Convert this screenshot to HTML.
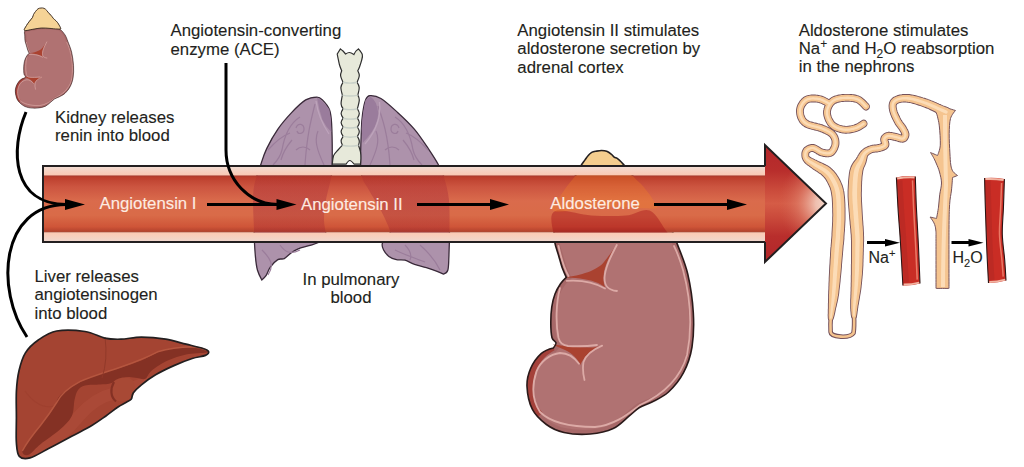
<!DOCTYPE html>
<html><head><meta charset="utf-8">
<style>
html,body{margin:0;padding:0;background:#fff;width:1024px;height:467px;overflow:hidden}
svg{display:block}
text{font-family:"Liberation Sans",sans-serif;font-size:16.8px;fill:#231f20;stroke:#231f20;stroke-width:0.12px}
.vt{stroke:#fdebe2}
.vt{fill:#fdebe2}
</style></head><body>
<svg width="1024" height="467" viewBox="0 0 1024 467">
<defs>
  <linearGradient id="red" x1="0" y1="0" x2="0" y2="1">
    <stop offset="0" stop-color="#a83a2b"/>
    <stop offset="0.04" stop-color="#bd402e"/>
    <stop offset="0.2" stop-color="#cc5540"/>
    <stop offset="0.45" stop-color="#da6b4c"/>
    <stop offset="0.7" stop-color="#d96b48"/>
    <stop offset="0.9" stop-color="#cf5538"/>
    <stop offset="0.97" stop-color="#b8452f"/>
    <stop offset="1" stop-color="#a84a35"/>
  </linearGradient>
  <linearGradient id="pinkt" x1="0" y1="0" x2="0" y2="1">
    <stop offset="0" stop-color="#f1ddd5"/>
    <stop offset="1" stop-color="#fbc8b2"/>
  </linearGradient>
  <linearGradient id="pinkb" x1="0" y1="0" x2="0" y2="1">
    <stop offset="0" stop-color="#fcc9b3"/>
    <stop offset="1" stop-color="#efd8cf"/>
  </linearGradient>
  <linearGradient id="headv" x1="0" y1="145" x2="0" y2="262" gradientUnits="userSpaceOnUse">
    <stop offset="0" stop-color="#b3262a"/>
    <stop offset="0.22" stop-color="#b82e2c"/>
    <stop offset="0.38" stop-color="#ca4a3b"/>
    <stop offset="0.5" stop-color="#d55c46"/>
    <stop offset="0.62" stop-color="#ca4a3b"/>
    <stop offset="0.78" stop-color="#b82e2c"/>
    <stop offset="1" stop-color="#b3262a"/>
  </linearGradient>
  <radialGradient id="headh" cx="828" cy="203.5" r="62" gradientUnits="userSpaceOnUse">
    <stop offset="0" stop-color="#f6dcd0" stop-opacity="1"/>
    <stop offset="0.2" stop-color="#f0c4b4" stop-opacity="0.95"/>
    <stop offset="0.5" stop-color="#e28a74" stop-opacity="0.45"/>
    <stop offset="0.8" stop-color="#d06050" stop-opacity="0"/>
  </radialGradient>
</defs>

<!-- ORGANS placeholder -->

<defs><g id="kart">
<path d="M553.6 211 C550.5 209.3 556.4 203.2 558 200 C559.6 196.8 561.5 194.3 563 192 C564.5 189.7 565.5 188.3 567 186.3 C568.5 184.3 570.5 181.9 572 180 C573.5 178.1 574.8 176.8 576 175 C577.2 173.2 578.3 170.9 579.3 169.1 C580.3 167.3 581 165.5 582 164 C583 162.5 584 161.3 585 159.9 C586 158.5 586.9 156.9 588 155.7 C589.1 154.4 590.3 153.2 591.7 152.4 C593.1 151.7 594.6 151.5 596.2 151.2 C597.8 150.9 599.8 150.5 601.5 150.5 C603.2 150.5 605.1 150.6 606.7 151.2 C608.3 151.8 610 153.2 611.2 154.2 C612.5 155.2 613.2 156.5 614.2 157.2 C615.2 157.9 616.1 157.7 617.2 158.4 C618.3 159.2 619.9 160.6 621 161.7 C622.1 162.8 622.8 163.7 624 165.1 C625.2 166.5 626.7 168.3 628 170 C629.3 171.7 630.7 173.5 632 175 C633.3 176.5 634.3 177.6 635.6 178.9 C636.9 180.2 638.4 181.3 640 183 C641.6 184.7 643.6 186.9 645.3 188.9 C647 190.9 648.4 192.6 650 195 C651.6 197.4 653.9 201.2 655 203.4 C656.1 205.6 659.2 207.5 656.4 208.3 C653.5 209.1 647.1 208.3 637.9 208 C628.7 207.7 611.5 206.2 601.3 206.5 C591.1 206.8 584.7 209.2 576.7 210 C568.8 210.8 556.7 212.7 553.6 211Z" fill="#f4cd8e" stroke="#231f20" stroke-width="1.6"/>
<path d="M554.7 213.1 C558.5 209.8 568.9 209.7 576.7 208.3 C584.5 206.9 591.1 205 601.3 204.6 C611.5 204.2 628.9 205.2 637.9 206 C646.9 206.8 649.8 206.2 655 209.4 C660.2 212.6 665.3 219.3 669 225 C672.7 230.7 673.9 235.2 677 243.4 C680.1 251.6 685.1 262.6 687.8 274.2 C690.5 285.8 692.6 300.7 693.3 312.8 C694 324.9 693.6 337 692 347 C690.4 357 687.4 365.2 683.5 372.7 C679.6 380.2 673.8 387.1 668.5 392 C663.2 396.9 656.8 399.4 652 402 C647.2 404.6 643.3 405.1 639.5 407.5 C635.7 409.9 633.4 412.7 629 416.2 C624.6 419.7 619.7 425.5 613.2 428.5 C606.8 431.5 598.5 433.3 590.3 434 C582.1 434.7 571.3 434.1 564 432.5 C556.7 430.9 551.7 428.4 546.4 424.5 C541.1 420.6 535.5 415.6 532.3 409.2 C529.1 402.8 527.3 393.2 527 386.4 C526.7 379.6 528.3 373.9 530.7 368.4 C533.1 362.9 537.6 356.8 541.4 353.4 C545.2 350 553.4 348 553.4 348 C553.4 348 556.2 344.6 556 342.9 C555.8 341.2 552.9 341.1 552 337.7 C551.1 334.3 550.8 327.4 550.8 322.3 C550.8 317.2 551.1 311.6 551.8 306.9 C552.5 302.2 553.5 297.9 555 294 C556.5 290.1 558.6 286.5 560.5 283.7 C562.4 280.9 566.3 277.3 566.3 277.3 C566.3 277.3 563.7 271.9 562.4 268.3 C561.1 264.7 559.9 259.8 558.6 255.4 C557.3 251 555.5 246.6 554.7 242 C553.9 237.4 554 232.8 554 228 C554 223.2 550.9 216.4 554.7 213.1Z" fill="#b07272"/>
<clipPath id="kclip"><path d="M554.7 213.1 C558.5 209.8 568.9 209.7 576.7 208.3 C584.5 206.9 591.1 205 601.3 204.6 C611.5 204.2 628.9 205.2 637.9 206 C646.9 206.8 649.8 206.2 655 209.4 C660.2 212.6 665.3 219.3 669 225 C672.7 230.7 673.9 235.2 677 243.4 C680.1 251.6 685.1 262.6 687.8 274.2 C690.5 285.8 692.6 300.7 693.3 312.8 C694 324.9 693.6 337 692 347 C690.4 357 687.4 365.2 683.5 372.7 C679.6 380.2 673.8 387.1 668.5 392 C663.2 396.9 656.8 399.4 652 402 C647.2 404.6 643.3 405.1 639.5 407.5 C635.7 409.9 633.4 412.7 629 416.2 C624.6 419.7 619.7 425.5 613.2 428.5 C606.8 431.5 598.5 433.3 590.3 434 C582.1 434.7 571.3 434.1 564 432.5 C556.7 430.9 551.7 428.4 546.4 424.5 C541.1 420.6 535.5 415.6 532.3 409.2 C529.1 402.8 527.3 393.2 527 386.4 C526.7 379.6 528.3 373.9 530.7 368.4 C533.1 362.9 537.6 356.8 541.4 353.4 C545.2 350 553.4 348 553.4 348 C553.4 348 556.2 344.6 556 342.9 C555.8 341.2 552.9 341.1 552 337.7 C551.1 334.3 550.8 327.4 550.8 322.3 C550.8 317.2 551.1 311.6 551.8 306.9 C552.5 302.2 553.5 297.9 555 294 C556.5 290.1 558.6 286.5 560.5 283.7 C562.4 280.9 566.3 277.3 566.3 277.3 C566.3 277.3 563.7 271.9 562.4 268.3 C561.1 264.7 559.9 259.8 558.6 255.4 C557.3 251 555.5 246.6 554.7 242 C553.9 237.4 554 232.8 554 228 C554 223.2 550.9 216.4 554.7 213.1Z"/></clipPath>
<g clip-path="url(#kclip)">
<path d="M554.7 213.1 C558.5 209.8 568.9 209.7 576.7 208.3 C584.5 206.9 591.1 205 601.3 204.6 C611.5 204.2 628.9 205.2 637.9 206 C646.9 206.8 649.8 206.2 655 209.4 C660.2 212.6 665.3 219.3 669 225 C672.7 230.7 673.9 235.2 677 243.4 C680.1 251.6 685.1 262.6 687.8 274.2 C690.5 285.8 692.6 300.7 693.3 312.8 C694 324.9 693.6 337 692 347 C690.4 357 687.4 365.2 683.5 372.7 C679.6 380.2 673.8 387.1 668.5 392 C663.2 396.9 656.8 399.4 652 402 C647.2 404.6 643.3 405.1 639.5 407.5 C635.7 409.9 633.4 412.7 629 416.2 C624.6 419.7 619.7 425.5 613.2 428.5 C606.8 431.5 598.5 433.3 590.3 434 C582.1 434.7 571.3 434.1 564 432.5 C556.7 430.9 551.7 428.4 546.4 424.5 C541.1 420.6 535.5 415.6 532.3 409.2 C529.1 402.8 527.3 393.2 527 386.4 C526.7 379.6 528.3 373.9 530.7 368.4 C533.1 362.9 537.6 356.8 541.4 353.4 C545.2 350 553.4 348 553.4 348 C553.4 348 556.2 344.6 556 342.9 C555.8 341.2 552.9 341.1 552 337.7 C551.1 334.3 550.8 327.4 550.8 322.3 C550.8 317.2 551.1 311.6 551.8 306.9 C552.5 302.2 553.5 297.9 555 294 C556.5 290.1 558.6 286.5 560.5 283.7 C562.4 280.9 566.3 277.3 566.3 277.3 C566.3 277.3 563.7 271.9 562.4 268.3 C561.1 264.7 559.9 259.8 558.6 255.4 C557.3 251 555.5 246.6 554.7 242 C553.9 237.4 554 232.8 554 228 C554 223.2 550.9 216.4 554.7 213.1Z" fill="none" stroke="#9d5d5e" stroke-width="9" opacity="0.45"/>
<path d="M553 347 C543 352 534 362 530.5 378 C528 390 530 405 540 415" fill="none" stroke="#a4413a" stroke-width="7"/>
</g>
<path d="M564.8 277.3 C580 276 598 270 604 262 C609 256 612 251 614.3 247.7 C609 257 605 266 604 272 C603 279 603.5 284 605.3 287.6 C600 283 592 280 580 278.5 C574 277.8 568 277.5 564.8 277.3Z" fill="#aa4230"/>
<path d="M552.6 344.5 C565 346 580 348 593 347.5 C597 347 600 346 602 345.5 C592 350 586 355 583 360 C581.5 362 580.8 364 580.3 365 C578 359 572 353 565 350 C560 348 556 346 552.6 344.5Z" fill="#aa4230"/>
<path d="M616.8 245 C610 258 605 268 604.5 278 C604.5 285 607 290 617 291 M558.5 246 C561 258 564 268 568.5 276 M566.7 280.8 C578 280 592 281 605 288.5 M560 288 C556 303 555.5 323 558.5 338 C560 343.5 563 345.5 568 346 C577 346.5 586 346.5 597 345 M602.1 345.7 C592 350 586 355 583.5 362 C582.5 368 583 374 584.5 380 M579 363.7 C574 357 567 353 560 353 C550 354 540 362 536.5 371.4 C532 385 532 400 540 412 C550 422 570 427 595 427 C615 425 628 414 640 405 C660 396 680 380 687 355 C692 330 691 300 683 270 C680 260 677 252 674 246" fill="none" stroke="#dcaaa6" stroke-width="1.8" stroke-linecap="round"/>
<path d="M554.7 213.1 C558.5 209.8 568.9 209.7 576.7 208.3 C584.5 206.9 591.1 205 601.3 204.6 C611.5 204.2 628.9 205.2 637.9 206 C646.9 206.8 649.8 206.2 655 209.4 C660.2 212.6 665.3 219.3 669 225 C672.7 230.7 673.9 235.2 677 243.4 C680.1 251.6 685.1 262.6 687.8 274.2 C690.5 285.8 692.6 300.7 693.3 312.8 C694 324.9 693.6 337 692 347 C690.4 357 687.4 365.2 683.5 372.7 C679.6 380.2 673.8 387.1 668.5 392 C663.2 396.9 656.8 399.4 652 402 C647.2 404.6 643.3 405.1 639.5 407.5 C635.7 409.9 633.4 412.7 629 416.2 C624.6 419.7 619.7 425.5 613.2 428.5 C606.8 431.5 598.5 433.3 590.3 434 C582.1 434.7 571.3 434.1 564 432.5 C556.7 430.9 551.7 428.4 546.4 424.5 C541.1 420.6 535.5 415.6 532.3 409.2 C529.1 402.8 527.3 393.2 527 386.4 C526.7 379.6 528.3 373.9 530.7 368.4 C533.1 362.9 537.6 356.8 541.4 353.4 C545.2 350 553.4 348 553.4 348 C553.4 348 556.2 344.6 556 342.9 C555.8 341.2 552.9 341.1 552 337.7 C551.1 334.3 550.8 327.4 550.8 322.3 C550.8 317.2 551.1 311.6 551.8 306.9 C552.5 302.2 553.5 297.9 555 294 C556.5 290.1 558.6 286.5 560.5 283.7 C562.4 280.9 566.3 277.3 566.3 277.3 C566.3 277.3 563.7 271.9 562.4 268.3 C561.1 264.7 559.9 259.8 558.6 255.4 C557.3 251 555.5 246.6 554.7 242 C553.9 237.4 554 232.8 554 228 C554 223.2 550.9 216.4 554.7 213.1Z" fill="none" stroke="#2b1a1a" stroke-width="1.6"/>
</g></defs>
<use href="#kart"/>
<use href="#kart" transform="translate(-169.1,-43.8) scale(0.35)"/>
<path d="M24.5 30.5 C23.4 29.9 25.7 27 26.5 25.5 C27.3 24 28.4 22.7 29.4 21.4 C30.4 20.1 31.8 18.6 32.5 17.5 C33.2 16.4 33 15.5 33.5 14.5 C34 13.5 34.8 12.4 35.5 11.5 C36.2 10.6 37.1 9.4 38 8.8 C38.9 8.2 40 8.1 41 8 C42 7.9 43 7.9 44 8.3 C45 8.7 46 9.6 46.8 10.5 C47.6 11.4 48.3 12.7 49 13.5 C49.7 14.3 50.3 14.4 51 15.2 C51.7 16 52.6 17.6 53.4 18.5 C54.2 19.4 55.1 19.9 56 20.8 C56.9 21.7 57.8 22.7 58.5 24 C59.2 25.3 60.8 27.7 60.5 28.5 C60.2 29.3 58.8 29 57 29 C55.2 29 52.6 28.6 50 28.4 C47.4 28.2 44.3 27.9 41.4 28 C38.5 28.1 35.6 28.9 32.8 29.3 C30 29.7 25.6 31.1 24.5 30.5Z" fill="#f5d396" stroke="#3a2a20" stroke-width="0.9"/>
<!-- liver -->
<path d="M38.3 340 C43.5 336.4 48.9 332.4 56.7 331 C64.5 329.6 77 330.3 85 331.5 C93 332.7 98.8 336.8 104.8 338.1 C110.8 339.4 114.9 339.4 121 339.2 C127.1 339 133.9 337.1 141.4 337.1 C148.9 337.1 158.4 338 165.8 339.2 C173.2 340.4 180 342.7 186.1 344.2 C192.2 345.7 198.7 347.1 202.4 348.3 C206.1 349.5 208 350.2 208.5 351.4 C209 352.6 208.1 354.2 205.4 355.4 C202.7 356.6 197.4 356.8 192.2 358.5 C186.9 360.2 180 362.9 173.9 365.6 C167.8 368.3 161 371.6 155.6 374.8 C150.2 378 145.1 381.8 141.4 384.9 C137.7 387.9 134.9 390.7 133.2 393.1 C131.5 395.5 132.6 397.6 131.2 399.2 C129.8 400.8 127.2 401.7 125 403 C122.8 404.3 121.2 404.8 118 407 C114.8 409.2 110 413.1 105.6 416.2 C101.2 419.3 97.4 422.1 91.8 425.5 C86.2 428.9 78.9 432.4 71.7 436.3 C64.5 440.2 55.6 445 48.6 448.6 C41.6 452.2 34.9 456.6 30 457.9 C25.1 459.2 21.6 458.8 19.3 456.3 C17 453.8 16.9 449.3 16.4 442.8 C15.9 436.3 16.4 425.7 16.4 417.1 C16.4 408.5 16 399.1 16.4 391.4 C16.8 383.7 17.5 377.2 19 370.8 C20.5 364.4 22.2 358 25.4 352.9 C28.6 347.8 33.1 343.6 38.3 340Z" fill="#a44432"/>
<clipPath id="lclip"><path d="M38.3 340 C43.5 336.4 48.9 332.4 56.7 331 C64.5 329.6 77 330.3 85 331.5 C93 332.7 98.8 336.8 104.8 338.1 C110.8 339.4 114.9 339.4 121 339.2 C127.1 339 133.9 337.1 141.4 337.1 C148.9 337.1 158.4 338 165.8 339.2 C173.2 340.4 180 342.7 186.1 344.2 C192.2 345.7 198.7 347.1 202.4 348.3 C206.1 349.5 208 350.2 208.5 351.4 C209 352.6 208.1 354.2 205.4 355.4 C202.7 356.6 197.4 356.8 192.2 358.5 C186.9 360.2 180 362.9 173.9 365.6 C167.8 368.3 161 371.6 155.6 374.8 C150.2 378 145.1 381.8 141.4 384.9 C137.7 387.9 134.9 390.7 133.2 393.1 C131.5 395.5 132.6 397.6 131.2 399.2 C129.8 400.8 127.2 401.7 125 403 C122.8 404.3 121.2 404.8 118 407 C114.8 409.2 110 413.1 105.6 416.2 C101.2 419.3 97.4 422.1 91.8 425.5 C86.2 428.9 78.9 432.4 71.7 436.3 C64.5 440.2 55.6 445 48.6 448.6 C41.6 452.2 34.9 456.6 30 457.9 C25.1 459.2 21.6 458.8 19.3 456.3 C17 453.8 16.9 449.3 16.4 442.8 C15.9 436.3 16.4 425.7 16.4 417.1 C16.4 408.5 16 399.1 16.4 391.4 C16.8 383.7 17.5 377.2 19 370.8 C20.5 364.4 22.2 358 25.4 352.9 C28.6 347.8 33.1 343.6 38.3 340Z"/></clipPath>
<g clip-path="url(#lclip)">
<path d="M30 455 Q60 440 80 415 Q95 398 112 394 Q130 390 150 380" fill="none" stroke="#ab4b38" stroke-width="12" opacity="0.8"/>
<path d="M25 391 Q40 412 58 405" fill="none" stroke="#9c3e2d" stroke-width="1.2" opacity="0.7"/>
</g>
<path d="M22.3 451.7 C22.3 449.4 25.4 445.3 28.5 440.9 C31.6 436.5 36.7 430.9 40.8 425.5 C44.9 420.1 49.9 413.6 53.2 408.5 C56.6 403.4 56.4 399 60.9 394.6 C65.4 390.2 73.7 385.4 80.3 381.9 C86.9 378.4 93.9 376.1 100.7 373.7 C107.5 371.3 114.2 369.8 121 367.6 C127.8 365.4 135.3 363 141.4 360.5 C147.5 358 152.2 354.4 157.6 352.4 C163 350.4 168.1 349.1 173.9 348.3 C179.7 347.5 186.8 347 192.2 347.3 C197.6 347.6 204.1 349.5 206.5 350.3 C208.9 351.1 209.9 351.7 206.5 352.4 C203.1 353.1 192.5 353 186.1 354.4 C179.7 355.8 173.6 357.8 167.8 360.5 C162 363.2 155.2 367.6 151.5 370.7 C147.8 373.8 147.8 377.6 145.4 378.8 C143 380 140.2 378.3 137.3 378 C134.4 377.7 131.2 376.7 128 377 C124.8 377.3 121 378.9 118 380 C115 381.1 113 382.8 110 383.5 C107 384.2 104.2 384.2 100 384.5 C95.8 384.8 88.7 384.6 85 385.5 C81.3 386.4 79.8 387.6 78 390 C76.2 392.4 75.5 395.6 74.5 400 C73.5 404.4 74.2 411.2 71.7 416.2 C69.2 421.2 64.5 425.5 59.4 430.1 C54.2 434.7 45.9 439.9 40.8 444 C35.6 448.1 31.6 453.5 28.5 454.8 C25.4 456.1 22.3 454 22.3 451.7Z" fill="#843124"/>
<path d="M112 384 C115 378 125 376 131 379 C135 382 135.5 390 133 396 C128 402 119 403 114 399 C110.5 395 110.5 389 112 384Z" fill="#a84935"/>
<path d="M114 382 C110 389 110.5 397 116 401.5" fill="none" stroke="#843124" stroke-width="2.2"/>
<path d="M22.3 451 C26 444 35 432 40.8 425 C47 417 52 410 57 402 C60 396 66 389 80.3 381.4 C90 377 100 374 121 367 C135 362 146 358 157.6 351.8 C170 348 180 347 192.2 346.8 C198 347 203 348.5 206.5 350" fill="none" stroke="#b5563f" stroke-width="1.5"/>
<path d="M105 337 Q108 360 102 378" fill="none" stroke="#8e3828" stroke-width="0.9"/>
<path d="M38.3 340 C43.5 336.4 48.9 332.4 56.7 331 C64.5 329.6 77 330.3 85 331.5 C93 332.7 98.8 336.8 104.8 338.1 C110.8 339.4 114.9 339.4 121 339.2 C127.1 339 133.9 337.1 141.4 337.1 C148.9 337.1 158.4 338 165.8 339.2 C173.2 340.4 180 342.7 186.1 344.2 C192.2 345.7 198.7 347.1 202.4 348.3 C206.1 349.5 208 350.2 208.5 351.4 C209 352.6 208.1 354.2 205.4 355.4 C202.7 356.6 197.4 356.8 192.2 358.5 C186.9 360.2 180 362.9 173.9 365.6 C167.8 368.3 161 371.6 155.6 374.8 C150.2 378 145.1 381.8 141.4 384.9 C137.7 387.9 134.9 390.7 133.2 393.1 C131.5 395.5 132.6 397.6 131.2 399.2 C129.8 400.8 127.2 401.7 125 403 C122.8 404.3 121.2 404.8 118 407 C114.8 409.2 110 413.1 105.6 416.2 C101.2 419.3 97.4 422.1 91.8 425.5 C86.2 428.9 78.9 432.4 71.7 436.3 C64.5 440.2 55.6 445 48.6 448.6 C41.6 452.2 34.9 456.6 30 457.9 C25.1 459.2 21.6 458.8 19.3 456.3 C17 453.8 16.9 449.3 16.4 442.8 C15.9 436.3 16.4 425.7 16.4 417.1 C16.4 408.5 16 399.1 16.4 391.4 C16.8 383.7 17.5 377.2 19 370.8 C20.5 364.4 22.2 358 25.4 352.9 C28.6 347.8 33.1 343.6 38.3 340Z" fill="none" stroke="#231f20" stroke-width="1.7"/>
<!-- lungs -->
<path d="M316.9 97.1 C319.7 97.1 320.3 97.8 322.4 99.9 C324.5 102 327.9 105.6 329.4 109.6 C330.9 113.5 331.1 114.5 331.6 123.6 C332.1 132.7 332.3 154.9 332.2 164 C332.1 173.1 332 172 331 178 C330 184 327.2 193 326 200 C324.8 207 324 213.7 324 220 C324 226.3 326.9 234.2 326 238 C325.1 241.8 321.4 241.2 318.5 242.5 C315.6 243.8 312.3 244.6 308.9 245.7 C305.5 246.8 301.2 247.7 298.2 248.9 C295.2 250.2 293 251.6 290.7 253.2 C288.4 254.8 286.4 257.5 284.3 258.6 C282.2 259.7 280.1 258.2 277.8 259.6 C275.5 261 272.3 264.4 270.3 267.1 C268.3 269.8 267.4 273.6 266 275.7 C264.6 277.8 261.8 280 261.8 280 C261.8 280 258.6 274.2 257.5 270.3 C256.4 266.4 256 263.1 255.4 256.4 C254.8 249.7 254.3 241.1 254 230 C253.7 218.9 252.3 201 253.5 190 C254.7 179 258.8 170.9 261 164 C263.2 157.1 263.9 154.4 266.7 148.6 C269.5 142.8 273.7 135.1 277.9 129.1 C282.1 123.1 287.2 117.3 291.8 112.4 C296.4 107.5 301.5 102.5 305.7 99.9 C309.9 97.4 314.1 97.1 316.9 97.1Z" fill="#ad92ab" stroke="#3a2a3a" stroke-width="1.3"/>
<path d="M369.8 95.7 C372.4 95.5 376.3 95.7 380.9 98.5 C385.5 101.3 392 107.3 397.6 112.4 C403.2 117.5 409.2 123.1 414.3 129.1 C419.4 135.1 424.4 142.8 428.3 148.6 C432.2 154.4 435.4 159.3 438 164 C440.6 168.7 442.2 171 444 177 C445.8 183 448.1 191.2 449 200 C449.9 208.8 449.5 220.6 449.5 230 C449.5 239.4 449.2 249.7 448.9 256.4 C448.6 263.1 448.7 267.4 447.8 270.3 C446.9 273.2 443.5 274.1 443.5 274.1 C443.5 274.1 440 272.5 437.1 271.4 C434.2 270.3 430.1 268.9 426.4 267.7 C422.6 266.5 418.2 265.6 414.6 264.4 C411 263.1 408 261 405 260.2 C402 259.4 399.1 260.2 396.4 259.6 C393.7 259 391 258 388.9 256.4 C386.8 254.8 384.7 252.2 383.6 250 C382.5 247.8 381.4 245.5 382.5 243 C383.6 240.5 389.1 237.8 390 235 C390.9 232.2 389.9 230.5 388.2 226 C386.5 221.5 382.8 214 379.6 208 C376.4 202 372 196 368.9 190 C365.8 184 362.2 182.2 361 172 C359.8 161.8 361.1 139 361.4 129.1 C361.7 119.2 362.1 117.3 362.8 112.4 C363.5 107.5 364.4 102.7 365.6 99.9 C366.8 97.1 367.2 95.9 369.8 95.7Z" fill="#ad92ab" stroke="#3a2a3a" stroke-width="1.3"/>
<path d="M317 97.5 Q322 100 329.4 109.6 Q331.6 120 331.3 132 Q326 127 322.5 120 Q319 110 317 97.5Z" fill="#9a7c9c"/>
<path d="M370.3 96.5 Q377.5 101 378.3 114 Q377 127 367 138.2 Q364 141 362.8 143 L361.6 129 Q362.5 112 365.6 100 Z" fill="#9a7c9c"/>
<path d="M315 104 C311 120 307 135 305 165 M300 117 C292 122 285 132 282 150 C280 158 276 162 273 165 M318 131 C314 140 317 150 324 165 M296 128 C298 122 304 124 304 129 C304 134 298 135 297 131 M292 140 C287 146 283 152 281 160 M268 150 C275 142 282 136 290 133 M310 150 C306 146 300 146 296 150 M378 106 C383 120 388 135 390 165 M395 117 C403 122 410 132 413 150 C415 158 419 162 422 165 M376 131 C380 140 377 150 370 165 M399 128 C397 122 391 124 391 129 C391 134 397 135 398 131 M403 140 C408 146 412 152 414 160 M428 150 C421 142 414 136 406 133 M385 150 C389 146 395 146 399 150 M262 250 C270 258 275 265 268 275 M280 245 C285 252 290 255 300 250 M395 250 C405 255 415 258 425 262 M420 245 C428 252 435 260 440 270 M405 245 C410 250 412 255 410 260" fill="none" stroke="#9b7d9b" stroke-width="1.2"/>
<path d="M316 101 C317.5 112 321 122 329 134 M379.5 102 C381 114 378.5 128 365 144" fill="none" stroke="#bda3bb" stroke-width="1.3"/>
<path d="M340.4 48.9 C340.4 48.9 342.1 50.1 343 51 C343.9 51.9 345.6 54 345.6 54 C345.6 54 348 52.4 349.4 52.5 C350.8 52.6 353.9 54.6 353.9 54.6 C353.9 54.6 355.2 52 356 51 C356.8 50 358.4 48.9 358.4 48.9 C358.4 48.9 361.8 52.7 362.3 54.6 C362.8 56.5 362.1 58.3 361.6 60.4 C361.1 62.5 360.1 65.3 359.5 67 C358.9 68.7 357.8 70.7 357.8 70.7 C357.8 70.7 359.4 73.9 359.3 75.8 C359.2 77.7 357.1 82.3 357.1 82.3 C357.1 82.3 359.1 85.3 359.2 87.4 C359.3 89.5 357.8 95.1 357.8 95.1 C357.8 95.1 359.4 97.7 359.3 100 C359.2 102.3 357.4 108.7 357.4 108.7 C357.4 108.7 359.3 111.9 359.3 113.5 C359.3 115.1 357.4 118.2 357.4 118.2 C357.4 118.2 359.3 121.1 359.3 122.6 C359.3 124.1 357.4 127 357.4 127 C357.4 127 359.3 130.1 359.3 131.7 C359.3 133.3 357.4 136.4 357.4 136.4 C357.4 136.4 359.1 139.3 359.3 140.8 C359.5 142.3 358.5 145.2 358.5 145.2 C358.5 145.2 360.1 149.8 360.5 152 C360.9 154.2 360.9 156.3 360.9 158.3 C360.9 160.3 360.5 164.1 360.5 164.1 C360.5 164.1 354.2 164.1 354.2 164.1 C354.2 164.1 351.1 160.5 349.8 160.5 C348.5 160.5 346.1 164.1 346.1 164.1 C346.1 164.1 332.3 164.1 332.3 164.1 C332.3 164.1 332.8 157.8 333.7 155.4 C334.6 153.1 336.5 151.7 338 150 C339.5 148.3 342.5 145.2 342.5 145.2 C342.5 145.2 341 142.3 341.1 140.8 C341.2 139.3 343.2 136.4 343.2 136.4 C343.2 136.4 341.1 133.3 341.1 131.7 C341.1 130.1 343.2 127 343.2 127 C343.2 127 341.1 124.1 341.1 122.6 C341.1 121.1 343.2 118.2 343.2 118.2 C343.2 118.2 341.1 115.1 341.1 113.5 C341.1 111.9 343.2 108.7 343.2 108.7 C343.2 108.7 341.2 106.3 341.1 104 C341 101.7 342.4 95.1 342.4 95.1 C342.4 95.1 340.8 89.5 340.9 87.4 C341 85.3 343 82.3 343 82.3 C343 82.3 340.8 77.7 340.6 75.8 C340.4 73.9 341.7 70.7 341.7 70.7 C341.7 70.7 340 66.7 339.5 65 C339 63.3 338.9 62.2 338.5 60.4 C338.1 58.6 337.2 54 337.2 54 C337.2 54 340.4 48.9 340.4 48.9Z" fill="#e7e9da" stroke="#2e2e2e" stroke-width="1.2"/>
<path d="M343 82.3 Q350 84 357.1 82.3 M342.4 95.1 Q350 97 357.8 95.1 M343.2 108.7 Q350 110.5 357.4 108.7 M343.2 118.2 Q350 120 357.4 118.2 M343.2 127 Q350 129 357.4 127 M343.2 136.4 Q350 138 357.4 136.4 M342.5 145.2 Q350 147 358.5 145.2" fill="none" stroke="#c8d0c8" stroke-width="1.4"/>
<!-- nephron -->
<path d="M868.1 104.3 L867.7 104 L867.4 103.6 L866.9 103.1 L866.3 102.4 L865.6 101.7 L864.9 101 L864.1 100.2 L863.2 99.4 L862.3 98.7 L861.4 98 L860.3 97.3 L859.2 96.8 L858.2 96.3 L857.1 96 L856 95.7 L854.9 95.4 L853.8 95.2 L852.6 95.1 L851.5 95 L850.3 94.9 L849.2 94.8 L848.1 94.8 L847 94.8 L845.9 94.8 L844.8 94.8 L843.7 94.9 L842.6 95 L841.4 95.1 L840.3 95.3 L839.1 95.5 L837.9 95.7 L836.8 96 L835.7 96.3 L834.6 96.7 L833.6 97.1 L832.6 97.6 L831.6 98.1 L830.8 98.7 L829.9 99.4 L829.2 100.1 L828.5 100.9 L827.9 101.6 L827.3 102.4 L826.8 103.2 L826.4 104 L825.9 104.8 L825.6 105.6 L825.2 106.4 L824.9 107.2 L824.7 108 L824.4 108.8 L824.3 109.7 L824.1 110.5 L824 111.4 L824 112.3 L824 113.2 L824.1 114.1 L824.2 115 L824.4 115.9 L824.6 116.8 L824.9 117.7 L825.2 118.6 L825.5 119.5 L825.9 120.5 L826.4 121.5 L826.9 122.4 L827.4 123.4 L828 124.4 L828.7 125.3 L829.4 126.2 L830.2 127 L831.1 127.8 L832 128.5 L833 129.2 L834 129.7 L835.1 130.2 L836.2 130.7 L837.3 131.1 L838.5 131.5 L839.6 131.8 L840.7 132.1 L841.9 132.4 L843 132.5 L844.1 132.7 L845.2 132.8 L846.4 132.8 L847.6 132.7 L848.7 132.7 L849.8 132.5 L851 132.3 L852 132.1 L853.1 131.9 L854.1 131.7 L855.1 131.4 L856 131.1 L856.9 130.9 L857.9 130.5 L858.8 130.1 L859.7 129.7 L860.6 129.2 L861.4 128.7 L862.1 128.3 L862.8 127.8 L863.5 127.4 L864 127 L864.5 126.7 L864.9 126.4 L865.2 126.3 A3 3 0 0 0 862 121.1 L862 121.1 L861.6 121.4 L861.1 121.7 L860.6 122.1 L860.1 122.4 L859.5 122.8 L858.9 123.2 L858.3 123.6 L857.6 124 L857 124.3 L856.3 124.7 L855.7 124.9 L855.1 125.1 L854.3 125.4 L853.5 125.6 L852.6 125.8 L851.7 126.1 L850.8 126.3 L849.9 126.4 L849 126.6 L848.1 126.7 L847.2 126.8 L846.3 126.8 L845.5 126.8 L844.7 126.7 L843.9 126.6 L843 126.5 L842.1 126.3 L841.1 126 L840.2 125.8 L839.3 125.5 L838.4 125.1 L837.6 124.8 L836.8 124.4 L836.1 124 L835.4 123.6 L834.9 123.2 L834.4 122.7 L833.9 122.2 L833.5 121.7 L833 121 L832.6 120.3 L832.1 119.6 L831.8 118.9 L831.4 118.1 L831.1 117.3 L830.8 116.6 L830.6 115.9 L830.4 115.2 L830.2 114.6 L830.1 114 L830.1 113.5 L830 112.9 L830 112.4 L830 111.8 L830.1 111.3 L830.2 110.7 L830.3 110.2 L830.4 109.7 L830.6 109.2 L830.8 108.6 L831 108.1 L831.3 107.5 L831.6 106.9 L831.9 106.4 L832.3 105.8 L832.7 105.3 L833.1 104.8 L833.5 104.3 L833.9 103.9 L834.4 103.5 L834.9 103.1 L835.4 102.8 L836 102.6 L836.7 102.3 L837.5 102 L838.3 101.8 L839.2 101.6 L840.2 101.4 L841.1 101.2 L842.1 101.1 L843.1 101 L844.2 100.9 L845.1 100.8 L846.1 100.8 L847 100.8 L848 100.8 L849 100.8 L850 100.9 L850.9 100.9 L851.9 101 L852.8 101.2 L853.7 101.3 L854.6 101.5 L855.4 101.7 L856.1 102 L856.8 102.2 L857.4 102.5 L858 102.9 L858.6 103.4 L859.3 104 L860 104.6 L860.6 105.2 L861.3 105.9 L861.9 106.5 L862.5 107.2 L863 107.7 L863.5 108.3 L863.9 108.7 A3 3 0 0 0 868.1 104.3Z" fill="#74515a" stroke="#74515a" stroke-width="1.8" stroke-linejoin="round"/>
<path d="M830.3 100.8 L829.9 100.6 L829.4 100.3 L828.7 99.9 L827.9 99.5 L827.1 99 L826.1 98.6 L825.1 98.1 L824.1 97.6 L823 97.1 L821.9 96.7 L820.7 96.3 L819.6 96.1 L818.5 95.9 L817.4 95.7 L816.3 95.6 L815.1 95.5 L813.9 95.5 L812.7 95.5 L811.5 95.5 L810.3 95.6 L809.2 95.8 L808 96 L806.9 96.3 L805.8 96.8 L804.7 97.3 L803.7 98 L802.9 98.7 L802 99.4 L801.3 100.3 L800.6 101.1 L800 102 L799.4 102.9 L798.9 103.8 L798.4 104.7 L798 105.6 L797.7 106.5 L797.4 107.5 L797.2 108.5 L797 109.5 L796.9 110.5 L796.9 111.5 L797 112.5 L797.1 113.5 L797.2 114.5 L797.4 115.4 L797.6 116.3 L797.9 117.2 L798.2 118.1 L798.5 118.9 L798.9 119.6 L799.3 120.4 L799.7 121.2 L800.2 121.9 L800.7 122.7 L801.4 123.4 L802.1 124.1 L802.8 124.8 L803.7 125.4 L804.6 126.1 L805.6 126.6 L806.8 127.2 L808 127.7 L809.3 128.1 L810.7 128.5 L812.1 128.9 L813.5 129.2 L814.9 129.6 L816.3 129.9 L817.6 130.2 L818.8 130.6 L819.9 130.9 L820.9 131.3 L821.9 131.7 L822.9 132.1 L823.9 132.6 L824.8 133 L825.7 133.4 L826.6 133.9 L827.4 134.3 L828.1 134.7 L828.8 135.2 L829.3 135.6 L829.8 136.1 L830.3 136.5 L830.7 137 L831 137.5 L831.3 138 L831.6 138.6 L831.9 139.1 L832.1 139.7 L832.3 140.3 L832.4 140.9 L832.5 141.5 L832.5 142.1 L832.5 142.7 L832.5 143.2 L832.4 143.8 L832.3 144.4 L832.1 145.1 L831.9 145.8 L831.6 146.5 L831.3 147.3 L830.9 147.9 L830.6 148.5 L830.2 149.1 L829.9 149.5 L829.6 149.8 L829.3 150 L829.1 150.1 L828.9 150.2 L828.5 150.3 L828.1 150.3 L827.5 150.4 L827 150.3 L826.3 150.3 L825.6 150.2 L824.9 150.1 L824.2 149.9 L823.5 149.8 L822.8 149.6 L822.3 149.5 L821.8 149.2 L821.2 148.9 L820.5 148.5 L819.8 148 L819 147.5 L818.2 147 L817.3 146.5 L816.5 146 L815.5 145.6 L814.4 145.2 L813.3 145 L812.3 145 L811.3 145 L810.4 145.2 L809.5 145.4 L808.6 145.7 L807.8 146 L807 146.4 L806.2 146.9 L805.5 147.4 L804.8 148 L804.2 148.6 L803.7 149.4 L803.2 150.2 L802.9 151 L802.6 151.8 L802.4 152.7 L802.3 153.6 L802.3 154.5 L802.3 155.4 L802.4 156.4 L802.5 157.3 L802.8 158.2 L803.2 159.2 L803.6 160.1 L804.2 161 L804.8 161.8 L805.5 162.6 L806.2 163.2 L807 163.9 L807.7 164.5 L808.5 165.1 L809.3 165.6 L810.1 166.2 L810.9 166.7 L811.6 167.3 L812.4 167.9 L813.2 168.5 L814.2 169.2 L815.2 169.8 L816.2 170.5 L817.2 171.1 L818.2 171.7 L819.1 172.4 L820 173 L820.9 173.6 L821.6 174.1 L822.3 174.7 L822.8 175.3 L823.4 175.8 L824 176.4 L824.5 177 L825 177.5 L825.4 178.1 L825.8 178.6 L826.3 179.2 L826.6 179.8 L827 180.5 L827.4 181.2 L827.8 181.9 L828.2 182.7 L828.6 183.5 L829 184.3 L829.4 185.2 L829.8 186 L830.2 186.8 L830.5 187.6 L830.8 188.5 L831.1 189.4 L831.4 190.4 L831.6 191.4 L831.8 192.5 L832 193.7 L832.2 195 L832.4 196.4 L832.6 198 L832.7 199.6 L832.8 201.3 L832.9 203.1 L833 204.9 L833 206.8 L833.1 208.7 L833.1 210.5 L833.1 212.3 L833.2 214.1 L833.2 215.9 L833.1 217.6 L833.1 219.5 L833.1 221.3 L833 223.1 L832.9 225 L832.8 226.8 L832.7 228.6 L832.6 230.3 L832.5 232 L832.4 233.6 L832.4 235.2 L832.3 236.5 L832.2 237.8 L832.1 238.9 L832 239.9 L831.9 240.9 L831.9 241.9 L831.8 242.9 L831.7 244 L831.6 245.1 L831.5 246.4 L831.3 247.8 L831.2 249.4 L831.1 251.1 L831 253 L830.9 255.1 L830.8 257.2 L830.6 259.4 L830.5 261.7 L830.4 263.9 L830.2 266.2 L830.1 268.4 L830 270.6 L829.9 272.7 L829.8 274.6 L829.7 276.5 L829.6 278.4 L829.6 280.2 L829.5 282 L829.4 283.7 L829.4 285.4 L829.3 287.1 L829.3 288.7 L829.2 290.2 L829.1 291.8 L829.1 293.2 L829 294.6 L829 295.9 L829 297.2 L829 298.4 L828.9 299.5 L828.9 300.6 L828.9 301.7 L828.9 302.7 L828.8 303.7 L828.8 304.7 L828.8 305.7 L828.8 306.6 L828.8 307.6 L828.8 308.6 L828.7 309.6 L828.7 310.6 L828.7 311.6 L828.7 312.6 L828.7 313.5 L828.6 314.4 L828.6 315.2 L828.6 316 L828.7 316.7 L828.7 317.3 L828.7 317.7 A2.1 2.1 0 0 0 832.9 318.3 L832.9 318.3 L833 317.8 L833.2 317.2 L833.4 316.6 L833.6 315.8 L833.8 315 L834 314.1 L834.2 313.2 L834.4 312.3 L834.6 311.3 L834.8 310.3 L835 309.3 L835.2 308.4 L835.4 307.4 L835.7 306.5 L835.9 305.6 L836.1 304.6 L836.3 303.6 L836.6 302.6 L836.8 301.5 L837 300.4 L837.3 299.3 L837.5 298 L837.7 296.8 L838 295.4 L838.2 294 L838.4 292.5 L838.5 291 L838.7 289.4 L838.9 287.8 L839.1 286.1 L839.3 284.4 L839.5 282.7 L839.7 280.9 L839.8 279.1 L840 277.2 L840.2 275.4 L840.4 273.4 L840.6 271.4 L840.8 269.2 L841 267 L841.1 264.7 L841.3 262.4 L841.5 260.2 L841.7 258 L841.9 255.8 L842.1 253.8 L842.2 251.9 L842.4 250.2 L842.5 248.7 L842.6 247.4 L842.7 246.1 L842.8 245 L843 244 L843.1 243 L843.2 241.9 L843.3 240.9 L843.4 239.8 L843.5 238.6 L843.5 237.3 L843.6 235.8 L843.7 234.3 L843.8 232.7 L844 231 L844.1 229.2 L844.2 227.4 L844.3 225.5 L844.4 223.6 L844.5 221.7 L844.6 219.8 L844.6 217.9 L844.6 215.9 L844.6 214.1 L844.6 212.2 L844.6 210.3 L844.6 208.4 L844.5 206.5 L844.5 204.5 L844.4 202.6 L844.3 200.7 L844.2 198.8 L844 196.9 L843.8 195.1 L843.6 193.4 L843.4 191.7 L843 190.2 L842.7 188.7 L842.3 187.3 L841.9 185.9 L841.4 184.7 L840.9 183.5 L840.4 182.3 L839.9 181.2 L839.4 180.2 L838.9 179.2 L838.3 178.3 L837.8 177.3 L837.2 176.4 L836.6 175.5 L836 174.6 L835.4 173.7 L834.7 172.9 L834 172 L833.3 171.2 L832.5 170.5 L831.7 169.7 L830.9 169 L830.1 168.3 L829.2 167.5 L828.1 166.8 L827 166.1 L825.9 165.5 L824.7 164.9 L823.6 164.4 L822.5 163.8 L821.4 163.3 L820.3 162.9 L819.3 162.4 L818.4 162 L817.5 161.5 L816.6 161.1 L815.7 160.6 L814.8 160.2 L813.9 159.7 L813.1 159.3 L812.3 159 L811.5 158.6 L810.8 158.2 L810.2 157.9 L809.7 157.6 L809.3 157.3 L809 157.1 L808.8 156.9 L808.6 156.7 L808.5 156.3 L808.4 156 L808.3 155.5 L808.3 155.1 L808.3 154.6 L808.3 154.2 L808.3 153.7 L808.4 153.4 L808.5 153 L808.6 152.8 L808.7 152.6 L808.8 152.5 L809 152.3 L809.2 152.1 L809.5 151.9 L809.9 151.7 L810.3 151.5 L810.7 151.3 L811.1 151.2 L811.6 151.1 L812 151 L812.4 151 L812.7 151 L812.9 151 L813.2 151.1 L813.7 151.4 L814.3 151.7 L815 152.1 L815.7 152.6 L816.5 153.1 L817.4 153.6 L818.2 154.1 L819.2 154.6 L820.2 155.1 L821.2 155.4 L822.1 155.6 L822.9 155.8 L823.8 156 L824.7 156.1 L825.7 156.3 L826.6 156.3 L827.6 156.4 L828.6 156.3 L829.6 156.2 L830.6 155.9 L831.7 155.6 L832.7 155 L833.6 154.3 L834.3 153.5 L835 152.7 L835.6 151.8 L836.2 150.8 L836.7 149.9 L837.2 148.9 L837.5 147.8 L837.9 146.8 L838.2 145.8 L838.4 144.8 L838.5 143.8 L838.5 142.8 L838.5 141.8 L838.4 140.8 L838.3 139.8 L838.1 138.9 L837.8 137.9 L837.5 136.9 L837 136 L836.6 135.1 L836 134.2 L835.4 133.3 L834.7 132.5 L834 131.7 L833.1 131 L832.3 130.3 L831.3 129.7 L830.4 129.1 L829.4 128.6 L828.4 128.1 L827.4 127.6 L826.3 127.1 L825.3 126.6 L824.2 126.2 L823.1 125.7 L821.9 125.2 L820.5 124.8 L819.1 124.4 L817.7 124.1 L816.3 123.7 L814.9 123.4 L813.6 123.1 L812.3 122.7 L811.1 122.4 L810 122.1 L809.1 121.7 L808.4 121.4 L807.8 121 L807.2 120.6 L806.6 120.2 L806.2 119.8 L805.8 119.4 L805.4 118.9 L805.1 118.5 L804.8 118.1 L804.5 117.6 L804.3 117 L804 116.5 L803.8 115.9 L803.6 115.3 L803.4 114.7 L803.3 114.1 L803.1 113.5 L803 112.8 L803 112.1 L802.9 111.4 L802.9 110.8 L803 110.1 L803.1 109.5 L803.2 109 L803.3 108.5 L803.6 107.9 L803.8 107.3 L804.1 106.6 L804.5 106 L804.9 105.4 L805.4 104.8 L805.8 104.2 L806.3 103.7 L806.8 103.2 L807.3 102.8 L807.8 102.5 L808.2 102.2 L808.8 102 L809.4 101.8 L810.2 101.7 L811 101.6 L811.9 101.5 L812.8 101.5 L813.8 101.5 L814.8 101.5 L815.7 101.6 L816.7 101.7 L817.6 101.8 L818.4 101.9 L819.2 102.1 L819.9 102.4 L820.8 102.7 L821.6 103 L822.5 103.4 L823.4 103.9 L824.2 104.3 L825 104.8 L825.8 105.2 L826.5 105.6 L827.2 105.9 L827.7 106.2 A3 3 0 0 0 830.3 100.8Z" fill="#74515a" stroke="#74515a" stroke-width="1.8" stroke-linejoin="round"/>
<path d="M856.1 316 L856.2 315.6 L856.3 315 L856.4 314.4 L856.5 313.7 L856.6 313 L856.7 312.2 L856.8 311.3 L857 310.4 L857.1 309.4 L857.2 308.4 L857.4 307.3 L857.5 306.2 L857.7 305.1 L858 303.8 L858.2 302.4 L858.4 301 L858.7 299.5 L859 297.9 L859.2 296.3 L859.5 294.7 L859.8 293.1 L860 291.5 L860.3 289.9 L860.5 288.3 L860.7 286.8 L860.8 285.3 L861 283.9 L861.1 282.4 L861.3 280.9 L861.4 279.4 L861.6 277.9 L861.7 276.4 L861.9 274.9 L862 273.3 L862.1 271.8 L862.2 270.2 L862.3 268.5 L862.4 266.8 L862.5 265.1 L862.5 263.3 L862.6 261.5 L862.6 259.8 L862.7 258 L862.7 256.3 L862.8 254.6 L862.8 252.9 L862.9 251.3 L862.9 249.9 L862.9 248.5 L863 247.3 L863 246.1 L863.1 245 L863.1 243.9 L863.1 242.8 L863.2 241.7 L863.2 240.5 L863.2 239.3 L863.2 238.1 L863.2 236.7 L863.1 235.2 L863.1 233.6 L863 232 L862.9 230.2 L862.8 228.4 L862.7 226.6 L862.5 224.8 L862.4 222.9 L862.3 221 L862.1 219.1 L862 217.3 L861.9 215.5 L861.8 213.7 L861.7 211.9 L861.6 210.1 L861.5 208.3 L861.4 206.5 L861.3 204.8 L861.2 203 L861.1 201.3 L861 199.5 L861 197.8 L860.9 196.1 L860.9 194.4 L860.9 192.8 L861 191 L861 189.2 L861 187.3 L861.1 185.5 L861.2 183.6 L861.2 181.8 L861.4 180 L861.5 178.3 L861.6 176.6 L861.8 175.1 L862 173.8 L862.2 172.6 L862.3 171.6 L862.4 170.8 L862.6 170 L862.8 169.3 L863 168.6 L863.2 167.9 L863.5 167.2 L863.8 166.5 L864.2 165.7 L864.6 164.9 L864.9 164 L865.3 163 L865.6 162.1 L865.8 161.2 L866 160.4 L866.2 159.7 L866.3 159 L866.5 158.4 L866.6 157.8 L866.7 157.3 L866.8 156.9 L866.9 156.5 L867 156.1 L867.2 155.8 L867.4 155.4 L867.7 155.1 L868.1 154.8 L868.4 154.4 L868.8 154.1 L869.2 153.8 L869.6 153.5 L870.1 153.2 L870.5 153 L871 152.7 L871.6 152.4 L872 152.2 L872.5 152.1 L873 152 L873.6 151.8 L874.2 151.8 L874.9 151.7 L875.6 151.6 L876.4 151.5 L877.1 151.5 L877.9 151.4 L878.7 151.2 L879.6 151.1 L880.3 150.9 L881 150.7 L881.6 150.5 L882.2 150.3 L882.9 150.1 L883.5 149.8 L884.2 149.6 L884.8 149.3 L885.5 148.9 L886.2 148.5 L886.8 147.9 L887.4 147.3 L888 146.4 L888.4 145.2 L888.5 144.1 L888.4 143.2 L888.2 142.4 L888 141.6 L887.8 141 L887.6 140.5 L887.5 140 L887.4 139.7 L887.3 139.5 L887.3 139.6 L887.3 139.8 L887.3 139.9 L887.3 139.8 L887.4 139.7 L887.5 139.6 L887.6 139.5 L887.7 139.4 L887.8 139.3 L888 139.2 L888.1 139.1 L888.3 139.1 L888.5 139 L888.7 139 L888.9 138.9 L889.2 138.9 L889.6 139 L890 139 L890.6 139.1 L891.2 139.2 L891.8 139.3 L892.4 139.5 L893.1 139.6 L893.8 139.8 L894.5 139.9 L895.1 140 L895.6 140.1 L896.1 140.3 L896.7 140.5 L897.3 140.7 L898 140.9 L898.6 141.1 L899.3 141.3 L900.1 141.5 L900.8 141.6 L901.7 141.7 L902.6 141.8 L903.5 141.6 L904.4 141.3 L905.2 140.9 L905.9 140.4 L906.5 139.8 L907 139.2 L907.4 138.6 L907.7 137.9 L908 137.3 L908.2 136.6 L908.4 135.9 L908.5 135.2 L908.5 134.5 L908.5 133.7 L908.3 132.9 L908.1 132.2 L907.9 131.6 L907.6 130.9 L907.4 130.3 L907.1 129.7 L906.7 129.2 L906.4 128.6 L906.1 128 L905.8 127.5 L905.5 126.9 L905.1 126.3 L904.7 125.7 L904.2 125.1 L903.8 124.5 L903.4 123.9 L902.9 123.3 L902.5 122.8 L902.1 122.2 L901.7 121.7 L901.3 121.1 L901 120.5 L900.6 119.9 L900.2 119.2 L899.8 118.4 L899.4 117.6 L899 116.7 L898.5 115.8 L898.1 114.9 L897.7 114 L897.3 113.2 L897 112.3 L896.7 111.5 L896.5 110.8 L896.3 110.1 L896.1 109.5 L896 108.8 L895.9 108.1 L895.8 107.5 L895.7 106.9 L895.7 106.4 L895.7 105.9 L895.7 105.4 L895.8 105 L895.9 104.7 L895.9 104.5 L896 104.3 L896.2 104.1 L896.3 103.9 L896.5 103.7 L896.8 103.4 L897.1 103.2 L897.5 103 L897.9 102.8 L898.3 102.6 L898.8 102.4 L899.3 102.2 L899.9 102.1 L900.5 101.9 L901.1 101.8 L901.8 101.7 L902.5 101.7 L903.3 101.6 L904 101.6 L904.8 101.6 L905.7 101.6 L906.5 101.7 L907.5 101.8 L908.4 101.9 L909.4 102.1 L910.4 102.2 L911.4 102.5 L912.6 102.8 L913.8 103.1 L915.1 103.5 L916.5 103.9 L917.8 104.3 L919.2 104.8 L920.6 105.2 L921.9 105.7 L923.2 106.2 L924.5 106.7 L925.7 107.1 L926.8 107.6 L928 108 L929.1 108.5 L930.2 109.1 L931.3 109.6 L932.4 110.1 L933.5 110.6 L934.5 111.1 L935.5 111.6 L936.5 112.1 L937.4 112.5 L938.3 113 L939 113.3 L939.7 113.7 L940.4 114 L941 114.3 L941.6 114.5 L942.1 114.8 L942.6 115 L943 115.2 L943.4 115.4 L943.7 115.6 L944 115.7 L944.3 115.9 A4.2 4.2 0 0 0 947.7 108.1 L947.7 108.1 L947.4 108 L947.1 107.9 L946.8 107.8 L946.4 107.6 L945.9 107.4 L945.4 107.2 L944.9 107 L944.3 106.8 L943.7 106.5 L943 106.3 L942.3 106 L941.5 105.6 L940.7 105.3 L939.9 104.9 L938.9 104.5 L937.9 104 L936.8 103.6 L935.7 103.1 L934.5 102.6 L933.3 102 L932.1 101.5 L930.8 101 L929.6 100.5 L928.3 100.1 L927 99.6 L925.7 99.2 L924.3 98.7 L922.9 98.3 L921.4 97.8 L920 97.4 L918.5 97 L917.1 96.6 L915.6 96.2 L914.2 95.9 L912.9 95.6 L911.6 95.4 L910.4 95.2 L909.2 95 L908 95 L906.9 94.9 L905.8 94.9 L904.8 94.9 L903.8 95 L902.8 95 L901.8 95.2 L900.9 95.3 L900 95.5 L899.1 95.7 L898.2 95.9 L897.4 96.2 L896.6 96.5 L895.8 96.8 L895 97.2 L894.2 97.6 L893.5 98.1 L892.8 98.6 L892.2 99.2 L891.6 99.8 L891 100.6 L890.6 101.3 L890.2 102.2 L889.9 103.1 L889.7 103.9 L889.6 104.8 L889.5 105.7 L889.5 106.5 L889.6 107.4 L889.6 108.2 L889.8 109.1 L889.9 110 L890.1 110.8 L890.3 111.7 L890.6 112.6 L890.9 113.6 L891.2 114.5 L891.6 115.5 L892 116.5 L892.5 117.5 L892.9 118.5 L893.4 119.4 L893.9 120.4 L894.3 121.2 L894.8 122.1 L895.2 122.9 L895.6 123.7 L896.1 124.5 L896.6 125.2 L897.1 125.9 L897.6 126.5 L898 127.1 L898.4 127.7 L898.9 128.2 L899.2 128.7 L899.6 129.2 L899.9 129.6 L900.1 130.1 L900.4 130.6 L900.7 131.1 L901 131.6 L901.3 132.1 L901.6 132.6 L901.8 133 L902 133.4 L902.1 133.8 L902.2 134.1 L902.3 134.3 L902.3 134.4 L902.3 134.5 L902.3 134.6 L902.3 134.8 L902.2 135 L902.2 135.2 L902.1 135.3 L902 135.5 L902 135.6 L901.9 135.6 L901.9 135.7 L901.9 135.7 L901.9 135.6 L902.1 135.6 L902.2 135.6 L902.1 135.6 L901.9 135.5 L901.5 135.5 L901 135.3 L900.5 135.2 L899.9 135 L899.2 134.8 L898.5 134.5 L897.8 134.3 L897 134.1 L896.3 134 L895.7 133.8 L895.1 133.7 L894.4 133.6 L893.8 133.4 L893.1 133.3 L892.3 133.1 L891.6 133 L890.9 132.9 L890.1 132.8 L889.3 132.7 L888.5 132.7 L887.7 132.8 L886.9 133 L886.3 133.2 L885.6 133.5 L884.9 133.8 L884.3 134.2 L883.8 134.6 L883.3 135.1 L882.8 135.6 L882.3 136.1 L881.9 136.7 L881.6 137.4 L881.3 138.2 L881.1 139.2 L881.2 140.2 L881.3 141.1 L881.5 141.8 L881.7 142.4 L881.9 143 L882.1 143.5 L882.2 143.9 L882.3 144.1 L882.3 144.2 L882.3 144 L882.4 143.6 L882.5 143.4 L882.5 143.4 L882.5 143.5 L882.3 143.6 L882 143.7 L881.7 143.9 L881.3 144.1 L880.8 144.2 L880.3 144.4 L879.8 144.6 L879.2 144.8 L878.7 144.9 L878.2 145 L877.7 145.1 L877.1 145.2 L876.5 145.3 L875.8 145.4 L875 145.4 L874.2 145.5 L873.4 145.6 L872.5 145.7 L871.7 145.9 L870.8 146.1 L870 146.4 L869.2 146.6 L868.5 146.9 L867.8 147.2 L867.1 147.5 L866.4 147.8 L865.7 148.2 L865 148.6 L864.3 149.1 L863.7 149.5 L863 150.1 L862.4 150.6 L861.8 151.2 L861.2 151.9 L860.6 152.6 L860.1 153.3 L859.6 154 L859.2 154.7 L858.8 155.3 L858.4 156 L858.1 156.6 L857.7 157.3 L857.4 157.9 L857 158.4 L856.7 159 L856.3 159.5 L855.9 160 L855.5 160.5 L855 161.2 L854.4 161.9 L853.8 162.7 L853.2 163.7 L852.6 164.7 L852 165.9 L851.4 167.2 L850.9 168.7 L850.4 170.2 L850.1 171.8 L849.8 173.5 L849.6 175.3 L849.4 177.1 L849.2 179 L849 180.9 L848.9 182.9 L848.8 184.9 L848.7 186.9 L848.6 188.8 L848.5 190.8 L848.5 192.6 L848.5 194.5 L848.5 196.4 L848.6 198.3 L848.7 200.1 L848.8 202 L848.9 203.8 L849.1 205.6 L849.2 207.4 L849.4 209.2 L849.5 211 L849.7 212.7 L849.8 214.5 L850 216.3 L850.1 218.2 L850.3 220.1 L850.5 222 L850.6 223.9 L850.8 225.7 L851 227.6 L851.2 229.3 L851.3 231.1 L851.4 232.7 L851.6 234.3 L851.7 235.8 L851.7 237.1 L851.8 238.4 L851.8 239.5 L851.9 240.6 L851.9 241.6 L851.9 242.7 L851.9 243.7 L851.9 244.7 L851.9 245.9 L851.9 247.1 L851.9 248.3 L851.9 249.7 L851.9 251.2 L851.9 252.8 L851.9 254.4 L851.9 256.1 L851.9 257.8 L851.9 259.6 L851.9 261.3 L851.9 263.1 L851.8 264.8 L851.8 266.5 L851.8 268.2 L851.8 269.8 L851.8 271.4 L851.8 272.9 L851.8 274.4 L851.7 275.9 L851.7 277.4 L851.7 278.9 L851.7 280.3 L851.7 281.8 L851.6 283.2 L851.6 284.7 L851.6 286.2 L851.5 287.7 L851.5 289.2 L851.5 290.7 L851.4 292.3 L851.4 293.9 L851.3 295.5 L851.3 297.1 L851.2 298.7 L851.1 300.2 L851.1 301.7 L851.1 303.1 L851.1 304.5 L851.1 305.8 L851.1 307 L851.1 308.1 L851.2 309.2 L851.2 310.2 L851.3 311.2 L851.4 312.1 L851.5 312.9 L851.5 313.7 L851.6 314.4 L851.7 315 L851.8 315.5 L851.9 316 A2.1 2.1 0 0 0 856.1 316Z" fill="#74515a" stroke="#74515a" stroke-width="1.8" stroke-linejoin="round"/>
<path d="M830.8 317 C830.4 322 830.4 328 830.6 332 C831 337.5 850 338.5 853.5 333 C854.5 327 854.2 320 854 315" fill="none" stroke="#74515a" stroke-width="4.6"/>
<path d="M944 107 C944 107 955.5 110.5 955.5 110.5 C955.5 110.5 951.5 114.7 950.5 118.5 C949.5 122.3 949.3 127.9 949.2 133.6 C949.1 139.3 949.6 147.7 949.9 152.9 C950.2 158.1 950.3 161.9 950.8 165 C951.3 168.1 951.9 169.8 953 171.5 C954.1 173.2 957.5 175.5 957.5 175.5 C957.5 175.5 952.5 177.5 952.5 177.5 C952.5 177.5 952 185.5 951.5 190 C951 194.5 950 198 949.6 204.6 C949.2 211.2 949.1 215.3 949 229.3 C948.9 243.3 949 288.4 949 288.4 C949 288.4 936 288.4 936 288.4 C936 288.4 936 251.3 936 241.6 C936 231.9 936.1 233.1 935.8 230 C935.5 226.9 935 225.2 934 223 C933 220.8 930 217 930 217 C930 217 936.5 218.5 936.5 218.5 C936.5 218.5 938 211 938.5 207.1 C939 203.2 939.2 198.8 939.7 194.8 C940.2 190.8 941.5 186.8 941.5 183 C941.5 179.2 940.3 175.2 939.5 172 C938.7 168.8 937.4 166.2 936.5 164 C935.6 161.8 935 160.4 934 158.5 C933 156.6 930.5 152.5 930.5 152.5 C930.5 152.5 937.5 155.5 937.5 155.5 C937.5 155.5 940 150.1 940.3 145.2 C940.6 140.3 939.8 130.7 939.3 125.9 C938.8 121.1 937.9 118.9 937.4 116.2 C936.9 113.5 934.9 111.5 936 110 C937.1 108.5 944 107 944 107Z" fill="#f5c48f" stroke="#74515a" stroke-width="1"/>
<path d="M868.1 104.3 L867.7 104 L867.4 103.6 L866.9 103.1 L866.3 102.4 L865.6 101.7 L864.9 101 L864.1 100.2 L863.2 99.4 L862.3 98.7 L861.4 98 L860.3 97.3 L859.2 96.8 L858.2 96.3 L857.1 96 L856 95.7 L854.9 95.4 L853.8 95.2 L852.6 95.1 L851.5 95 L850.3 94.9 L849.2 94.8 L848.1 94.8 L847 94.8 L845.9 94.8 L844.8 94.8 L843.7 94.9 L842.6 95 L841.4 95.1 L840.3 95.3 L839.1 95.5 L837.9 95.7 L836.8 96 L835.7 96.3 L834.6 96.7 L833.6 97.1 L832.6 97.6 L831.6 98.1 L830.8 98.7 L829.9 99.4 L829.2 100.1 L828.5 100.9 L827.9 101.6 L827.3 102.4 L826.8 103.2 L826.4 104 L825.9 104.8 L825.6 105.6 L825.2 106.4 L824.9 107.2 L824.7 108 L824.4 108.8 L824.3 109.7 L824.1 110.5 L824 111.4 L824 112.3 L824 113.2 L824.1 114.1 L824.2 115 L824.4 115.9 L824.6 116.8 L824.9 117.7 L825.2 118.6 L825.5 119.5 L825.9 120.5 L826.4 121.5 L826.9 122.4 L827.4 123.4 L828 124.4 L828.7 125.3 L829.4 126.2 L830.2 127 L831.1 127.8 L832 128.5 L833 129.2 L834 129.7 L835.1 130.2 L836.2 130.7 L837.3 131.1 L838.5 131.5 L839.6 131.8 L840.7 132.1 L841.9 132.4 L843 132.5 L844.1 132.7 L845.2 132.8 L846.4 132.8 L847.6 132.7 L848.7 132.7 L849.8 132.5 L851 132.3 L852 132.1 L853.1 131.9 L854.1 131.7 L855.1 131.4 L856 131.1 L856.9 130.9 L857.9 130.5 L858.8 130.1 L859.7 129.7 L860.6 129.2 L861.4 128.7 L862.1 128.3 L862.8 127.8 L863.5 127.4 L864 127 L864.5 126.7 L864.9 126.4 L865.2 126.3 A3 3 0 0 0 862 121.1 L862 121.1 L861.6 121.4 L861.1 121.7 L860.6 122.1 L860.1 122.4 L859.5 122.8 L858.9 123.2 L858.3 123.6 L857.6 124 L857 124.3 L856.3 124.7 L855.7 124.9 L855.1 125.1 L854.3 125.4 L853.5 125.6 L852.6 125.8 L851.7 126.1 L850.8 126.3 L849.9 126.4 L849 126.6 L848.1 126.7 L847.2 126.8 L846.3 126.8 L845.5 126.8 L844.7 126.7 L843.9 126.6 L843 126.5 L842.1 126.3 L841.1 126 L840.2 125.8 L839.3 125.5 L838.4 125.1 L837.6 124.8 L836.8 124.4 L836.1 124 L835.4 123.6 L834.9 123.2 L834.4 122.7 L833.9 122.2 L833.5 121.7 L833 121 L832.6 120.3 L832.1 119.6 L831.8 118.9 L831.4 118.1 L831.1 117.3 L830.8 116.6 L830.6 115.9 L830.4 115.2 L830.2 114.6 L830.1 114 L830.1 113.5 L830 112.9 L830 112.4 L830 111.8 L830.1 111.3 L830.2 110.7 L830.3 110.2 L830.4 109.7 L830.6 109.2 L830.8 108.6 L831 108.1 L831.3 107.5 L831.6 106.9 L831.9 106.4 L832.3 105.8 L832.7 105.3 L833.1 104.8 L833.5 104.3 L833.9 103.9 L834.4 103.5 L834.9 103.1 L835.4 102.8 L836 102.6 L836.7 102.3 L837.5 102 L838.3 101.8 L839.2 101.6 L840.2 101.4 L841.1 101.2 L842.1 101.1 L843.1 101 L844.2 100.9 L845.1 100.8 L846.1 100.8 L847 100.8 L848 100.8 L849 100.8 L850 100.9 L850.9 100.9 L851.9 101 L852.8 101.2 L853.7 101.3 L854.6 101.5 L855.4 101.7 L856.1 102 L856.8 102.2 L857.4 102.5 L858 102.9 L858.6 103.4 L859.3 104 L860 104.6 L860.6 105.2 L861.3 105.9 L861.9 106.5 L862.5 107.2 L863 107.7 L863.5 108.3 L863.9 108.7 A3 3 0 0 0 868.1 104.3Z" fill="#f5c48f"/>
<path d="M830.3 100.8 L829.9 100.6 L829.4 100.3 L828.7 99.9 L827.9 99.5 L827.1 99 L826.1 98.6 L825.1 98.1 L824.1 97.6 L823 97.1 L821.9 96.7 L820.7 96.3 L819.6 96.1 L818.5 95.9 L817.4 95.7 L816.3 95.6 L815.1 95.5 L813.9 95.5 L812.7 95.5 L811.5 95.5 L810.3 95.6 L809.2 95.8 L808 96 L806.9 96.3 L805.8 96.8 L804.7 97.3 L803.7 98 L802.9 98.7 L802 99.4 L801.3 100.3 L800.6 101.1 L800 102 L799.4 102.9 L798.9 103.8 L798.4 104.7 L798 105.6 L797.7 106.5 L797.4 107.5 L797.2 108.5 L797 109.5 L796.9 110.5 L796.9 111.5 L797 112.5 L797.1 113.5 L797.2 114.5 L797.4 115.4 L797.6 116.3 L797.9 117.2 L798.2 118.1 L798.5 118.9 L798.9 119.6 L799.3 120.4 L799.7 121.2 L800.2 121.9 L800.7 122.7 L801.4 123.4 L802.1 124.1 L802.8 124.8 L803.7 125.4 L804.6 126.1 L805.6 126.6 L806.8 127.2 L808 127.7 L809.3 128.1 L810.7 128.5 L812.1 128.9 L813.5 129.2 L814.9 129.6 L816.3 129.9 L817.6 130.2 L818.8 130.6 L819.9 130.9 L820.9 131.3 L821.9 131.7 L822.9 132.1 L823.9 132.6 L824.8 133 L825.7 133.4 L826.6 133.9 L827.4 134.3 L828.1 134.7 L828.8 135.2 L829.3 135.6 L829.8 136.1 L830.3 136.5 L830.7 137 L831 137.5 L831.3 138 L831.6 138.6 L831.9 139.1 L832.1 139.7 L832.3 140.3 L832.4 140.9 L832.5 141.5 L832.5 142.1 L832.5 142.7 L832.5 143.2 L832.4 143.8 L832.3 144.4 L832.1 145.1 L831.9 145.8 L831.6 146.5 L831.3 147.3 L830.9 147.9 L830.6 148.5 L830.2 149.1 L829.9 149.5 L829.6 149.8 L829.3 150 L829.1 150.1 L828.9 150.2 L828.5 150.3 L828.1 150.3 L827.5 150.4 L827 150.3 L826.3 150.3 L825.6 150.2 L824.9 150.1 L824.2 149.9 L823.5 149.8 L822.8 149.6 L822.3 149.5 L821.8 149.2 L821.2 148.9 L820.5 148.5 L819.8 148 L819 147.5 L818.2 147 L817.3 146.5 L816.5 146 L815.5 145.6 L814.4 145.2 L813.3 145 L812.3 145 L811.3 145 L810.4 145.2 L809.5 145.4 L808.6 145.7 L807.8 146 L807 146.4 L806.2 146.9 L805.5 147.4 L804.8 148 L804.2 148.6 L803.7 149.4 L803.2 150.2 L802.9 151 L802.6 151.8 L802.4 152.7 L802.3 153.6 L802.3 154.5 L802.3 155.4 L802.4 156.4 L802.5 157.3 L802.8 158.2 L803.2 159.2 L803.6 160.1 L804.2 161 L804.8 161.8 L805.5 162.6 L806.2 163.2 L807 163.9 L807.7 164.5 L808.5 165.1 L809.3 165.6 L810.1 166.2 L810.9 166.7 L811.6 167.3 L812.4 167.9 L813.2 168.5 L814.2 169.2 L815.2 169.8 L816.2 170.5 L817.2 171.1 L818.2 171.7 L819.1 172.4 L820 173 L820.9 173.6 L821.6 174.1 L822.3 174.7 L822.8 175.3 L823.4 175.8 L824 176.4 L824.5 177 L825 177.5 L825.4 178.1 L825.8 178.6 L826.3 179.2 L826.6 179.8 L827 180.5 L827.4 181.2 L827.8 181.9 L828.2 182.7 L828.6 183.5 L829 184.3 L829.4 185.2 L829.8 186 L830.2 186.8 L830.5 187.6 L830.8 188.5 L831.1 189.4 L831.4 190.4 L831.6 191.4 L831.8 192.5 L832 193.7 L832.2 195 L832.4 196.4 L832.6 198 L832.7 199.6 L832.8 201.3 L832.9 203.1 L833 204.9 L833 206.8 L833.1 208.7 L833.1 210.5 L833.1 212.3 L833.2 214.1 L833.2 215.9 L833.1 217.6 L833.1 219.5 L833.1 221.3 L833 223.1 L832.9 225 L832.8 226.8 L832.7 228.6 L832.6 230.3 L832.5 232 L832.4 233.6 L832.4 235.2 L832.3 236.5 L832.2 237.8 L832.1 238.9 L832 239.9 L831.9 240.9 L831.9 241.9 L831.8 242.9 L831.7 244 L831.6 245.1 L831.5 246.4 L831.3 247.8 L831.2 249.4 L831.1 251.1 L831 253 L830.9 255.1 L830.8 257.2 L830.6 259.4 L830.5 261.7 L830.4 263.9 L830.2 266.2 L830.1 268.4 L830 270.6 L829.9 272.7 L829.8 274.6 L829.7 276.5 L829.6 278.4 L829.6 280.2 L829.5 282 L829.4 283.7 L829.4 285.4 L829.3 287.1 L829.3 288.7 L829.2 290.2 L829.1 291.8 L829.1 293.2 L829 294.6 L829 295.9 L829 297.2 L829 298.4 L828.9 299.5 L828.9 300.6 L828.9 301.7 L828.9 302.7 L828.8 303.7 L828.8 304.7 L828.8 305.7 L828.8 306.6 L828.8 307.6 L828.8 308.6 L828.7 309.6 L828.7 310.6 L828.7 311.6 L828.7 312.6 L828.7 313.5 L828.6 314.4 L828.6 315.2 L828.6 316 L828.7 316.7 L828.7 317.3 L828.7 317.7 A2.1 2.1 0 0 0 832.9 318.3 L832.9 318.3 L833 317.8 L833.2 317.2 L833.4 316.6 L833.6 315.8 L833.8 315 L834 314.1 L834.2 313.2 L834.4 312.3 L834.6 311.3 L834.8 310.3 L835 309.3 L835.2 308.4 L835.4 307.4 L835.7 306.5 L835.9 305.6 L836.1 304.6 L836.3 303.6 L836.6 302.6 L836.8 301.5 L837 300.4 L837.3 299.3 L837.5 298 L837.7 296.8 L838 295.4 L838.2 294 L838.4 292.5 L838.5 291 L838.7 289.4 L838.9 287.8 L839.1 286.1 L839.3 284.4 L839.5 282.7 L839.7 280.9 L839.8 279.1 L840 277.2 L840.2 275.4 L840.4 273.4 L840.6 271.4 L840.8 269.2 L841 267 L841.1 264.7 L841.3 262.4 L841.5 260.2 L841.7 258 L841.9 255.8 L842.1 253.8 L842.2 251.9 L842.4 250.2 L842.5 248.7 L842.6 247.4 L842.7 246.1 L842.8 245 L843 244 L843.1 243 L843.2 241.9 L843.3 240.9 L843.4 239.8 L843.5 238.6 L843.5 237.3 L843.6 235.8 L843.7 234.3 L843.8 232.7 L844 231 L844.1 229.2 L844.2 227.4 L844.3 225.5 L844.4 223.6 L844.5 221.7 L844.6 219.8 L844.6 217.9 L844.6 215.9 L844.6 214.1 L844.6 212.2 L844.6 210.3 L844.6 208.4 L844.5 206.5 L844.5 204.5 L844.4 202.6 L844.3 200.7 L844.2 198.8 L844 196.9 L843.8 195.1 L843.6 193.4 L843.4 191.7 L843 190.2 L842.7 188.7 L842.3 187.3 L841.9 185.9 L841.4 184.7 L840.9 183.5 L840.4 182.3 L839.9 181.2 L839.4 180.2 L838.9 179.2 L838.3 178.3 L837.8 177.3 L837.2 176.4 L836.6 175.5 L836 174.6 L835.4 173.7 L834.7 172.9 L834 172 L833.3 171.2 L832.5 170.5 L831.7 169.7 L830.9 169 L830.1 168.3 L829.2 167.5 L828.1 166.8 L827 166.1 L825.9 165.5 L824.7 164.9 L823.6 164.4 L822.5 163.8 L821.4 163.3 L820.3 162.9 L819.3 162.4 L818.4 162 L817.5 161.5 L816.6 161.1 L815.7 160.6 L814.8 160.2 L813.9 159.7 L813.1 159.3 L812.3 159 L811.5 158.6 L810.8 158.2 L810.2 157.9 L809.7 157.6 L809.3 157.3 L809 157.1 L808.8 156.9 L808.6 156.7 L808.5 156.3 L808.4 156 L808.3 155.5 L808.3 155.1 L808.3 154.6 L808.3 154.2 L808.3 153.7 L808.4 153.4 L808.5 153 L808.6 152.8 L808.7 152.6 L808.8 152.5 L809 152.3 L809.2 152.1 L809.5 151.9 L809.9 151.7 L810.3 151.5 L810.7 151.3 L811.1 151.2 L811.6 151.1 L812 151 L812.4 151 L812.7 151 L812.9 151 L813.2 151.1 L813.7 151.4 L814.3 151.7 L815 152.1 L815.7 152.6 L816.5 153.1 L817.4 153.6 L818.2 154.1 L819.2 154.6 L820.2 155.1 L821.2 155.4 L822.1 155.6 L822.9 155.8 L823.8 156 L824.7 156.1 L825.7 156.3 L826.6 156.3 L827.6 156.4 L828.6 156.3 L829.6 156.2 L830.6 155.9 L831.7 155.6 L832.7 155 L833.6 154.3 L834.3 153.5 L835 152.7 L835.6 151.8 L836.2 150.8 L836.7 149.9 L837.2 148.9 L837.5 147.8 L837.9 146.8 L838.2 145.8 L838.4 144.8 L838.5 143.8 L838.5 142.8 L838.5 141.8 L838.4 140.8 L838.3 139.8 L838.1 138.9 L837.8 137.9 L837.5 136.9 L837 136 L836.6 135.1 L836 134.2 L835.4 133.3 L834.7 132.5 L834 131.7 L833.1 131 L832.3 130.3 L831.3 129.7 L830.4 129.1 L829.4 128.6 L828.4 128.1 L827.4 127.6 L826.3 127.1 L825.3 126.6 L824.2 126.2 L823.1 125.7 L821.9 125.2 L820.5 124.8 L819.1 124.4 L817.7 124.1 L816.3 123.7 L814.9 123.4 L813.6 123.1 L812.3 122.7 L811.1 122.4 L810 122.1 L809.1 121.7 L808.4 121.4 L807.8 121 L807.2 120.6 L806.6 120.2 L806.2 119.8 L805.8 119.4 L805.4 118.9 L805.1 118.5 L804.8 118.1 L804.5 117.6 L804.3 117 L804 116.5 L803.8 115.9 L803.6 115.3 L803.4 114.7 L803.3 114.1 L803.1 113.5 L803 112.8 L803 112.1 L802.9 111.4 L802.9 110.8 L803 110.1 L803.1 109.5 L803.2 109 L803.3 108.5 L803.6 107.9 L803.8 107.3 L804.1 106.6 L804.5 106 L804.9 105.4 L805.4 104.8 L805.8 104.2 L806.3 103.7 L806.8 103.2 L807.3 102.8 L807.8 102.5 L808.2 102.2 L808.8 102 L809.4 101.8 L810.2 101.7 L811 101.6 L811.9 101.5 L812.8 101.5 L813.8 101.5 L814.8 101.5 L815.7 101.6 L816.7 101.7 L817.6 101.8 L818.4 101.9 L819.2 102.1 L819.9 102.4 L820.8 102.7 L821.6 103 L822.5 103.4 L823.4 103.9 L824.2 104.3 L825 104.8 L825.8 105.2 L826.5 105.6 L827.2 105.9 L827.7 106.2 A3 3 0 0 0 830.3 100.8Z" fill="#f5c48f"/>
<path d="M856.1 316 L856.2 315.6 L856.3 315 L856.4 314.4 L856.5 313.7 L856.6 313 L856.7 312.2 L856.8 311.3 L857 310.4 L857.1 309.4 L857.2 308.4 L857.4 307.3 L857.5 306.2 L857.7 305.1 L858 303.8 L858.2 302.4 L858.4 301 L858.7 299.5 L859 297.9 L859.2 296.3 L859.5 294.7 L859.8 293.1 L860 291.5 L860.3 289.9 L860.5 288.3 L860.7 286.8 L860.8 285.3 L861 283.9 L861.1 282.4 L861.3 280.9 L861.4 279.4 L861.6 277.9 L861.7 276.4 L861.9 274.9 L862 273.3 L862.1 271.8 L862.2 270.2 L862.3 268.5 L862.4 266.8 L862.5 265.1 L862.5 263.3 L862.6 261.5 L862.6 259.8 L862.7 258 L862.7 256.3 L862.8 254.6 L862.8 252.9 L862.9 251.3 L862.9 249.9 L862.9 248.5 L863 247.3 L863 246.1 L863.1 245 L863.1 243.9 L863.1 242.8 L863.2 241.7 L863.2 240.5 L863.2 239.3 L863.2 238.1 L863.2 236.7 L863.1 235.2 L863.1 233.6 L863 232 L862.9 230.2 L862.8 228.4 L862.7 226.6 L862.5 224.8 L862.4 222.9 L862.3 221 L862.1 219.1 L862 217.3 L861.9 215.5 L861.8 213.7 L861.7 211.9 L861.6 210.1 L861.5 208.3 L861.4 206.5 L861.3 204.8 L861.2 203 L861.1 201.3 L861 199.5 L861 197.8 L860.9 196.1 L860.9 194.4 L860.9 192.8 L861 191 L861 189.2 L861 187.3 L861.1 185.5 L861.2 183.6 L861.2 181.8 L861.4 180 L861.5 178.3 L861.6 176.6 L861.8 175.1 L862 173.8 L862.2 172.6 L862.3 171.6 L862.4 170.8 L862.6 170 L862.8 169.3 L863 168.6 L863.2 167.9 L863.5 167.2 L863.8 166.5 L864.2 165.7 L864.6 164.9 L864.9 164 L865.3 163 L865.6 162.1 L865.8 161.2 L866 160.4 L866.2 159.7 L866.3 159 L866.5 158.4 L866.6 157.8 L866.7 157.3 L866.8 156.9 L866.9 156.5 L867 156.1 L867.2 155.8 L867.4 155.4 L867.7 155.1 L868.1 154.8 L868.4 154.4 L868.8 154.1 L869.2 153.8 L869.6 153.5 L870.1 153.2 L870.5 153 L871 152.7 L871.6 152.4 L872 152.2 L872.5 152.1 L873 152 L873.6 151.8 L874.2 151.8 L874.9 151.7 L875.6 151.6 L876.4 151.5 L877.1 151.5 L877.9 151.4 L878.7 151.2 L879.6 151.1 L880.3 150.9 L881 150.7 L881.6 150.5 L882.2 150.3 L882.9 150.1 L883.5 149.8 L884.2 149.6 L884.8 149.3 L885.5 148.9 L886.2 148.5 L886.8 147.9 L887.4 147.3 L888 146.4 L888.4 145.2 L888.5 144.1 L888.4 143.2 L888.2 142.4 L888 141.6 L887.8 141 L887.6 140.5 L887.5 140 L887.4 139.7 L887.3 139.5 L887.3 139.6 L887.3 139.8 L887.3 139.9 L887.3 139.8 L887.4 139.7 L887.5 139.6 L887.6 139.5 L887.7 139.4 L887.8 139.3 L888 139.2 L888.1 139.1 L888.3 139.1 L888.5 139 L888.7 139 L888.9 138.9 L889.2 138.9 L889.6 139 L890 139 L890.6 139.1 L891.2 139.2 L891.8 139.3 L892.4 139.5 L893.1 139.6 L893.8 139.8 L894.5 139.9 L895.1 140 L895.6 140.1 L896.1 140.3 L896.7 140.5 L897.3 140.7 L898 140.9 L898.6 141.1 L899.3 141.3 L900.1 141.5 L900.8 141.6 L901.7 141.7 L902.6 141.8 L903.5 141.6 L904.4 141.3 L905.2 140.9 L905.9 140.4 L906.5 139.8 L907 139.2 L907.4 138.6 L907.7 137.9 L908 137.3 L908.2 136.6 L908.4 135.9 L908.5 135.2 L908.5 134.5 L908.5 133.7 L908.3 132.9 L908.1 132.2 L907.9 131.6 L907.6 130.9 L907.4 130.3 L907.1 129.7 L906.7 129.2 L906.4 128.6 L906.1 128 L905.8 127.5 L905.5 126.9 L905.1 126.3 L904.7 125.7 L904.2 125.1 L903.8 124.5 L903.4 123.9 L902.9 123.3 L902.5 122.8 L902.1 122.2 L901.7 121.7 L901.3 121.1 L901 120.5 L900.6 119.9 L900.2 119.2 L899.8 118.4 L899.4 117.6 L899 116.7 L898.5 115.8 L898.1 114.9 L897.7 114 L897.3 113.2 L897 112.3 L896.7 111.5 L896.5 110.8 L896.3 110.1 L896.1 109.5 L896 108.8 L895.9 108.1 L895.8 107.5 L895.7 106.9 L895.7 106.4 L895.7 105.9 L895.7 105.4 L895.8 105 L895.9 104.7 L895.9 104.5 L896 104.3 L896.2 104.1 L896.3 103.9 L896.5 103.7 L896.8 103.4 L897.1 103.2 L897.5 103 L897.9 102.8 L898.3 102.6 L898.8 102.4 L899.3 102.2 L899.9 102.1 L900.5 101.9 L901.1 101.8 L901.8 101.7 L902.5 101.7 L903.3 101.6 L904 101.6 L904.8 101.6 L905.7 101.6 L906.5 101.7 L907.5 101.8 L908.4 101.9 L909.4 102.1 L910.4 102.2 L911.4 102.5 L912.6 102.8 L913.8 103.1 L915.1 103.5 L916.5 103.9 L917.8 104.3 L919.2 104.8 L920.6 105.2 L921.9 105.7 L923.2 106.2 L924.5 106.7 L925.7 107.1 L926.8 107.6 L928 108 L929.1 108.5 L930.2 109.1 L931.3 109.6 L932.4 110.1 L933.5 110.6 L934.5 111.1 L935.5 111.6 L936.5 112.1 L937.4 112.5 L938.3 113 L939 113.3 L939.7 113.7 L940.4 114 L941 114.3 L941.6 114.5 L942.1 114.8 L942.6 115 L943 115.2 L943.4 115.4 L943.7 115.6 L944 115.7 L944.3 115.9 A4.2 4.2 0 0 0 947.7 108.1 L947.7 108.1 L947.4 108 L947.1 107.9 L946.8 107.8 L946.4 107.6 L945.9 107.4 L945.4 107.2 L944.9 107 L944.3 106.8 L943.7 106.5 L943 106.3 L942.3 106 L941.5 105.6 L940.7 105.3 L939.9 104.9 L938.9 104.5 L937.9 104 L936.8 103.6 L935.7 103.1 L934.5 102.6 L933.3 102 L932.1 101.5 L930.8 101 L929.6 100.5 L928.3 100.1 L927 99.6 L925.7 99.2 L924.3 98.7 L922.9 98.3 L921.4 97.8 L920 97.4 L918.5 97 L917.1 96.6 L915.6 96.2 L914.2 95.9 L912.9 95.6 L911.6 95.4 L910.4 95.2 L909.2 95 L908 95 L906.9 94.9 L905.8 94.9 L904.8 94.9 L903.8 95 L902.8 95 L901.8 95.2 L900.9 95.3 L900 95.5 L899.1 95.7 L898.2 95.9 L897.4 96.2 L896.6 96.5 L895.8 96.8 L895 97.2 L894.2 97.6 L893.5 98.1 L892.8 98.6 L892.2 99.2 L891.6 99.8 L891 100.6 L890.6 101.3 L890.2 102.2 L889.9 103.1 L889.7 103.9 L889.6 104.8 L889.5 105.7 L889.5 106.5 L889.6 107.4 L889.6 108.2 L889.8 109.1 L889.9 110 L890.1 110.8 L890.3 111.7 L890.6 112.6 L890.9 113.6 L891.2 114.5 L891.6 115.5 L892 116.5 L892.5 117.5 L892.9 118.5 L893.4 119.4 L893.9 120.4 L894.3 121.2 L894.8 122.1 L895.2 122.9 L895.6 123.7 L896.1 124.5 L896.6 125.2 L897.1 125.9 L897.6 126.5 L898 127.1 L898.4 127.7 L898.9 128.2 L899.2 128.7 L899.6 129.2 L899.9 129.6 L900.1 130.1 L900.4 130.6 L900.7 131.1 L901 131.6 L901.3 132.1 L901.6 132.6 L901.8 133 L902 133.4 L902.1 133.8 L902.2 134.1 L902.3 134.3 L902.3 134.4 L902.3 134.5 L902.3 134.6 L902.3 134.8 L902.2 135 L902.2 135.2 L902.1 135.3 L902 135.5 L902 135.6 L901.9 135.6 L901.9 135.7 L901.9 135.7 L901.9 135.6 L902.1 135.6 L902.2 135.6 L902.1 135.6 L901.9 135.5 L901.5 135.5 L901 135.3 L900.5 135.2 L899.9 135 L899.2 134.8 L898.5 134.5 L897.8 134.3 L897 134.1 L896.3 134 L895.7 133.8 L895.1 133.7 L894.4 133.6 L893.8 133.4 L893.1 133.3 L892.3 133.1 L891.6 133 L890.9 132.9 L890.1 132.8 L889.3 132.7 L888.5 132.7 L887.7 132.8 L886.9 133 L886.3 133.2 L885.6 133.5 L884.9 133.8 L884.3 134.2 L883.8 134.6 L883.3 135.1 L882.8 135.6 L882.3 136.1 L881.9 136.7 L881.6 137.4 L881.3 138.2 L881.1 139.2 L881.2 140.2 L881.3 141.1 L881.5 141.8 L881.7 142.4 L881.9 143 L882.1 143.5 L882.2 143.9 L882.3 144.1 L882.3 144.2 L882.3 144 L882.4 143.6 L882.5 143.4 L882.5 143.4 L882.5 143.5 L882.3 143.6 L882 143.7 L881.7 143.9 L881.3 144.1 L880.8 144.2 L880.3 144.4 L879.8 144.6 L879.2 144.8 L878.7 144.9 L878.2 145 L877.7 145.1 L877.1 145.2 L876.5 145.3 L875.8 145.4 L875 145.4 L874.2 145.5 L873.4 145.6 L872.5 145.7 L871.7 145.9 L870.8 146.1 L870 146.4 L869.2 146.6 L868.5 146.9 L867.8 147.2 L867.1 147.5 L866.4 147.8 L865.7 148.2 L865 148.6 L864.3 149.1 L863.7 149.5 L863 150.1 L862.4 150.6 L861.8 151.2 L861.2 151.9 L860.6 152.6 L860.1 153.3 L859.6 154 L859.2 154.7 L858.8 155.3 L858.4 156 L858.1 156.6 L857.7 157.3 L857.4 157.9 L857 158.4 L856.7 159 L856.3 159.5 L855.9 160 L855.5 160.5 L855 161.2 L854.4 161.9 L853.8 162.7 L853.2 163.7 L852.6 164.7 L852 165.9 L851.4 167.2 L850.9 168.7 L850.4 170.2 L850.1 171.8 L849.8 173.5 L849.6 175.3 L849.4 177.1 L849.2 179 L849 180.9 L848.9 182.9 L848.8 184.9 L848.7 186.9 L848.6 188.8 L848.5 190.8 L848.5 192.6 L848.5 194.5 L848.5 196.4 L848.6 198.3 L848.7 200.1 L848.8 202 L848.9 203.8 L849.1 205.6 L849.2 207.4 L849.4 209.2 L849.5 211 L849.7 212.7 L849.8 214.5 L850 216.3 L850.1 218.2 L850.3 220.1 L850.5 222 L850.6 223.9 L850.8 225.7 L851 227.6 L851.2 229.3 L851.3 231.1 L851.4 232.7 L851.6 234.3 L851.7 235.8 L851.7 237.1 L851.8 238.4 L851.8 239.5 L851.9 240.6 L851.9 241.6 L851.9 242.7 L851.9 243.7 L851.9 244.7 L851.9 245.9 L851.9 247.1 L851.9 248.3 L851.9 249.7 L851.9 251.2 L851.9 252.8 L851.9 254.4 L851.9 256.1 L851.9 257.8 L851.9 259.6 L851.9 261.3 L851.9 263.1 L851.8 264.8 L851.8 266.5 L851.8 268.2 L851.8 269.8 L851.8 271.4 L851.8 272.9 L851.8 274.4 L851.7 275.9 L851.7 277.4 L851.7 278.9 L851.7 280.3 L851.7 281.8 L851.6 283.2 L851.6 284.7 L851.6 286.2 L851.5 287.7 L851.5 289.2 L851.5 290.7 L851.4 292.3 L851.4 293.9 L851.3 295.5 L851.3 297.1 L851.2 298.7 L851.1 300.2 L851.1 301.7 L851.1 303.1 L851.1 304.5 L851.1 305.8 L851.1 307 L851.1 308.1 L851.2 309.2 L851.2 310.2 L851.3 311.2 L851.4 312.1 L851.5 312.9 L851.5 313.7 L851.6 314.4 L851.7 315 L851.8 315.5 L851.9 316 A2.1 2.1 0 0 0 856.1 316Z" fill="#f5c48f"/>
<path d="M830.8 317 C830.4 322 830.4 328 830.6 332 C831 337.5 850 338.5 853.5 333 C854.5 327 854.2 320 854 315" fill="none" stroke="#f5c48f" stroke-width="2.6"/>
<path d="M866.8 105.7 L866.4 105.3 L866 104.9 L865.5 104.3 L864.9 103.7 L864.3 103 L863.6 102.3 L862.8 101.6 L862 100.8 L861.2 100.1 L860.3 99.5 L859.4 98.9 L858.5 98.5 L857.5 98.1 L856.6 97.8 L855.6 97.5 L854.5 97.3 L853.5 97.1 L852.4 96.9 L851.3 96.8 L850.2 96.7 L849.1 96.7 L848.1 96.6 L847 96.6 L846 96.7 L844.9 96.7 L843.8 96.8 L842.7 96.9 L841.6 97 L840.5 97.1 L839.4 97.3 L838.3 97.5 L837.3 97.8 L836.2 98.1 L835.3 98.4 L834.3 98.8 L833.5 99.2 L832.7 99.7 L831.9 100.2 L831.2 100.8 L830.5 101.4 L829.9 102.1 L829.4 102.8 L828.9 103.5 L828.4 104.2 L828 104.9 L827.6 105.6 L827.3 106.4 L826.9 107.1 L826.7 107.8 L826.4 108.5 L826.2 109.3 L826.1 110 L826 110.8 L825.9 111.5 L825.9 112.3 L825.9 113.1 L825.9 113.9 L826 114.7 L826.2 115.5 L826.4 116.3 L826.6 117.1 L826.9 118 L827.3 118.8 L827.6 119.7 L828 120.7 L828.5 121.6 L829 122.5 L829.6 123.3 L830.2 124.2 L830.8 125 L831.5 125.7 L832.3 126.4 L833.1 127 L834 127.6 L834.9 128.1 L835.9 128.5 L836.9 129 L837.9 129.4 L839 129.7 L840.1 130 L841.1 130.3 L842.2 130.5 L843.3 130.7 L844.3 130.8 L845.3 130.9 L846.4 130.9 L847.4 130.9 L848.5 130.8 L849.6 130.7 L850.6 130.5 L851.7 130.3 L852.7 130.1 L853.7 129.9 L854.6 129.6 L855.5 129.3 L856.4 129.1 L857.2 128.8 L858.1 128.4 L858.9 128 L859.7 127.6 L860.4 127.2 L861.1 126.7 L861.8 126.3 L862.4 125.9 L863 125.5 L863.5 125.1 L863.9 124.9 L864.2 124.7 A1.1 1.1 0 0 0 863 122.7 L863 122.7 L862.6 123 L862.2 123.3 L861.7 123.6 L861.1 124 L860.5 124.4 L859.9 124.8 L859.2 125.2 L858.6 125.6 L857.8 126 L857.1 126.3 L856.4 126.7 L855.6 126.9 L854.9 127.2 L854 127.4 L853.1 127.6 L852.2 127.9 L851.2 128.1 L850.2 128.3 L849.3 128.4 L848.3 128.5 L847.3 128.6 L846.4 128.6 L845.4 128.6 L844.5 128.6 L843.6 128.4 L842.6 128.3 L841.7 128.1 L840.7 127.8 L839.7 127.5 L838.7 127.2 L837.7 126.9 L836.8 126.5 L836 126 L835.1 125.6 L834.4 125.1 L833.7 124.6 L833.1 124.1 L832.5 123.5 L832 122.8 L831.5 122.1 L831 121.3 L830.5 120.5 L830.1 119.7 L829.7 118.8 L829.4 118 L829.1 117.2 L828.8 116.4 L828.6 115.7 L828.4 115 L828.3 114.3 L828.2 113.7 L828.2 113 L828.1 112.3 L828.2 111.7 L828.2 111 L828.3 110.4 L828.5 109.8 L828.6 109.2 L828.8 108.5 L829.1 107.9 L829.3 107.3 L829.6 106.7 L830 106 L830.3 105.4 L830.7 104.8 L831.2 104.2 L831.7 103.6 L832.2 103 L832.7 102.5 L833.3 102 L833.9 101.6 L834.5 101.2 L835.3 100.9 L836 100.5 L836.9 100.2 L837.8 100 L838.8 99.8 L839.8 99.6 L840.9 99.4 L841.9 99.2 L843 99.1 L844 99 L845 99 L846 98.9 L847 98.9 L848 98.9 L849 99 L850.1 99 L851.1 99.1 L852.1 99.2 L853.1 99.3 L854.1 99.5 L855 99.7 L855.9 100 L856.8 100.2 L857.5 100.5 L858.3 100.9 L859 101.4 L859.8 101.9 L860.5 102.6 L861.2 103.2 L861.9 103.9 L862.6 104.6 L863.2 105.3 L863.8 105.9 L864.3 106.5 L864.8 107 L865.2 107.3 A1.1 1.1 0 0 0 866.8 105.7Z" fill="#fde0be" opacity="0.85"/>
<path d="M829.5 102.5 L829 102.3 L828.5 102 L827.8 101.6 L827 101.1 L826.2 100.7 L825.3 100.2 L824.3 99.7 L823.3 99.3 L822.3 98.8 L821.3 98.4 L820.2 98.1 L819.2 97.9 L818.2 97.7 L817.2 97.6 L816.1 97.5 L815 97.4 L813.9 97.3 L812.8 97.3 L811.6 97.4 L810.5 97.5 L809.5 97.6 L808.4 97.8 L807.4 98.1 L806.5 98.5 L805.7 98.9 L804.8 99.5 L804.1 100.1 L803.4 100.8 L802.7 101.5 L802.1 102.2 L801.5 103 L801 103.9 L800.5 104.7 L800.1 105.5 L799.7 106.3 L799.4 107.1 L799.2 108 L799 108.8 L798.9 109.7 L798.8 110.6 L798.8 111.5 L798.8 112.4 L798.9 113.3 L799 114.2 L799.2 115 L799.4 115.8 L799.7 116.6 L799.9 117.4 L800.2 118.1 L800.5 118.8 L800.9 119.5 L801.3 120.2 L801.7 120.9 L802.2 121.5 L802.7 122.2 L803.3 122.8 L804 123.4 L804.7 123.9 L805.6 124.5 L806.5 125 L807.5 125.5 L808.6 126 L809.9 126.4 L811.2 126.7 L812.6 127.1 L814 127.4 L815.3 127.8 L816.7 128.1 L818.1 128.4 L819.3 128.8 L820.5 129.2 L821.6 129.6 L822.6 130 L823.6 130.4 L824.7 130.9 L825.6 131.3 L826.6 131.8 L827.5 132.2 L828.3 132.7 L829.1 133.2 L829.8 133.7 L830.5 134.2 L831.1 134.7 L831.7 135.3 L832.1 135.8 L832.6 136.5 L833 137.1 L833.3 137.8 L833.6 138.5 L833.9 139.2 L834.1 139.9 L834.2 140.6 L834.3 141.3 L834.4 142 L834.4 142.7 L834.4 143.4 L834.3 144.1 L834.1 144.8 L833.9 145.6 L833.6 146.4 L833.3 147.3 L833 148.1 L832.6 148.8 L832.2 149.6 L831.7 150.2 L831.2 150.8 L830.8 151.2 L830.4 151.6 L829.9 151.8 L829.4 152 L828.9 152.1 L828.2 152.2 L827.6 152.2 L826.8 152.2 L826.1 152.1 L825.3 152 L824.6 151.9 L823.8 151.7 L823 151.6 L822.3 151.4 L821.6 151.2 L821 150.9 L820.3 150.5 L819.5 150.1 L818.8 149.6 L818 149.1 L817.2 148.6 L816.4 148.1 L815.6 147.7 L814.8 147.3 L814 147 L813.1 146.9 L812.3 146.8 L811.5 146.9 L810.8 147 L810 147.2 L809.3 147.4 L808.6 147.7 L807.9 148.1 L807.3 148.4 L806.7 148.9 L806.1 149.3 L805.7 149.8 L805.2 150.4 L804.9 151 L804.6 151.6 L804.4 152.3 L804.3 153 L804.2 153.8 L804.1 154.5 L804.1 155.3 L804.2 156.1 L804.3 156.9 L804.6 157.6 L804.9 158.4 L805.2 159.1 L805.7 159.8 L806.2 160.4 L806.8 161 L807.5 161.6 L808.2 162.1 L808.9 162.7 L809.7 163.2 L810.5 163.7 L811.3 164.2 L812.1 164.7 L812.9 165.2 L813.7 165.8 L814.6 166.4 L815.5 167 L816.5 167.5 L817.5 168.1 L818.5 168.7 L819.5 169.3 L820.5 169.9 L821.5 170.5 L822.4 171.1 L823.3 171.7 L824.1 172.3 L824.8 172.9 L825.5 173.5 L826.1 174.1 L826.7 174.7 L827.3 175.3 L827.9 176 L828.4 176.6 L828.9 177.3 L829.3 177.9 L829.8 178.6 L830.3 179.4 L830.7 180.2 L831.2 181 L831.6 181.9 L832.1 182.8 L832.5 183.6 L832.9 184.5 L833.3 185.4 L833.7 186.3 L834.1 187.3 L834.4 188.3 L834.7 189.4 L835 190.5 L835.3 191.8 L835.5 193.1 L835.8 194.5 L836 196 L836.1 197.6 L836.3 199.3 L836.4 201.1 L836.5 203 L836.5 204.8 L836.6 206.7 L836.6 208.6 L836.7 210.5 L836.7 212.3 L836.7 214.1 L836.7 215.9 L836.7 217.7 L836.7 219.6 L836.6 221.4 L836.5 223.3 L836.4 225.1 L836.3 227 L836.2 228.8 L836.1 230.5 L836 232.2 L835.9 233.8 L835.9 235.4 L835.8 236.8 L835.7 238 L835.6 239.1 L835.5 240.2 L835.4 241.2 L835.3 242.2 L835.2 243.2 L835.1 244.3 L835 245.4 L834.9 246.7 L834.8 248.1 L834.7 249.6 L834.6 251.4 L834.4 253.3 L834.3 255.3 L834.2 257.4 L834 259.6 L833.9 261.9 L833.7 264.2 L833.6 266.4 L833.4 268.7 L833.3 270.8 L833.1 272.9 L833 274.9 L832.9 276.7 L832.8 278.6 L832.7 280.4 L832.6 282.2 L832.5 283.9 L832.4 285.6 L832.3 287.3 L832.2 288.9 L832.1 290.5 L832 292 L831.9 293.4 L831.8 294.8 L831.7 296.2 L831.6 297.4 L831.5 298.6 L831.4 299.8 L831.4 300.9 L831.3 301.9 L831.2 303 L831.1 304 L831 305 L830.9 305.9 L830.8 306.9 L830.8 307.9 L830.7 308.8 L830.6 309.8 L830.5 310.8 L830.5 311.8 L830.4 312.8 L830.3 313.7 L830.2 314.6 L830.2 315.4 L830.1 316.2 L830.1 316.8 L830 317.4 L830 317.9 A0.8 0.8 0 0 0 831.6 318.1 L831.6 318.1 L831.7 317.6 L831.8 317.1 L831.9 316.4 L832 315.6 L832.2 314.8 L832.3 313.9 L832.5 313 L832.6 312.1 L832.8 311.1 L832.9 310.1 L833.1 309.1 L833.2 308.1 L833.4 307.2 L833.5 306.3 L833.7 305.3 L833.9 304.3 L834 303.3 L834.2 302.3 L834.4 301.2 L834.5 300.1 L834.7 299 L834.9 297.8 L835 296.5 L835.2 295.2 L835.4 293.7 L835.5 292.3 L835.6 290.8 L835.8 289.2 L835.9 287.6 L836.1 285.9 L836.2 284.2 L836.4 282.4 L836.5 280.7 L836.7 278.9 L836.8 277 L837 275.1 L837.1 273.2 L837.3 271.1 L837.5 269 L837.6 266.7 L837.8 264.5 L838 262.2 L838.1 259.9 L838.3 257.7 L838.5 255.6 L838.6 253.6 L838.8 251.7 L838.9 250 L839 248.4 L839.2 247.1 L839.3 245.8 L839.4 244.7 L839.5 243.6 L839.6 242.6 L839.7 241.6 L839.8 240.6 L839.9 239.5 L840 238.3 L840.1 237 L840.1 235.6 L840.2 234.1 L840.3 232.5 L840.4 230.8 L840.6 229 L840.7 227.2 L840.8 225.4 L840.9 223.5 L840.9 221.6 L841 219.7 L841.1 217.8 L841.1 215.9 L841.1 214.1 L841.1 212.3 L841 210.4 L841 208.5 L841 206.6 L840.9 204.7 L840.8 202.8 L840.7 200.9 L840.6 199 L840.5 197.2 L840.3 195.5 L840.1 193.9 L839.9 192.3 L839.6 190.9 L839.3 189.5 L838.9 188.2 L838.5 187 L838.1 185.9 L837.7 184.8 L837.3 183.7 L836.8 182.7 L836.3 181.7 L835.8 180.8 L835.3 179.9 L834.8 179 L834.3 178.1 L833.8 177.2 L833.2 176.4 L832.7 175.6 L832.1 174.8 L831.5 174.1 L830.8 173.4 L830.2 172.6 L829.5 172 L828.8 171.3 L828 170.6 L827.2 169.9 L826.3 169.3 L825.3 168.6 L824.3 168 L823.3 167.4 L822.2 166.8 L821.2 166.3 L820.1 165.7 L819 165.2 L818 164.7 L817.1 164.2 L816.2 163.7 L815.3 163.2 L814.5 162.7 L813.6 162.2 L812.7 161.7 L811.9 161.3 L811.1 160.9 L810.3 160.4 L809.6 160 L809 159.6 L808.4 159.1 L807.9 158.7 L807.5 158.3 L807.2 157.9 L806.9 157.4 L806.7 156.9 L806.6 156.4 L806.5 155.8 L806.4 155.2 L806.4 154.6 L806.4 154 L806.5 153.4 L806.6 152.9 L806.8 152.4 L807 152 L807.2 151.6 L807.4 151.3 L807.7 151 L808.1 150.7 L808.5 150.3 L809 150 L809.5 149.8 L810.1 149.6 L810.6 149.4 L811.2 149.2 L811.8 149.1 L812.3 149.1 L812.9 149.1 L813.4 149.2 L813.9 149.4 L814.6 149.7 L815.3 150.1 L816 150.5 L816.7 151 L817.5 151.5 L818.3 152 L819.1 152.5 L820 153 L820.8 153.3 L821.7 153.6 L822.5 153.8 L823.3 154 L824.1 154.1 L825 154.3 L825.9 154.4 L826.7 154.5 L827.6 154.5 L828.4 154.5 L829.3 154.4 L830.1 154.2 L830.9 153.9 L831.6 153.4 L832.3 152.9 L832.9 152.3 L833.5 151.6 L834.1 150.8 L834.6 149.9 L835 149.1 L835.4 148.1 L835.8 147.2 L836.1 146.3 L836.3 145.4 L836.5 144.5 L836.6 143.6 L836.7 142.8 L836.7 141.9 L836.6 141 L836.5 140.2 L836.3 139.3 L836 138.5 L835.7 137.6 L835.4 136.8 L834.9 136 L834.5 135.2 L833.9 134.4 L833.3 133.7 L832.7 133.1 L832 132.4 L831.2 131.8 L830.3 131.3 L829.5 130.7 L828.5 130.2 L827.6 129.7 L826.6 129.2 L825.6 128.8 L824.5 128.3 L823.5 127.9 L822.4 127.4 L821.3 127 L820 126.6 L818.7 126.2 L817.3 125.9 L815.9 125.5 L814.5 125.2 L813.1 124.9 L811.8 124.5 L810.6 124.2 L809.4 123.8 L808.4 123.4 L807.5 123 L806.8 122.5 L806.1 122.1 L805.5 121.6 L804.9 121.1 L804.4 120.6 L804 120.1 L803.6 119.6 L803.2 119 L802.9 118.4 L802.6 117.8 L802.3 117.2 L802.1 116.6 L801.8 115.9 L801.6 115.2 L801.4 114.5 L801.3 113.8 L801.2 113 L801.1 112.2 L801.1 111.5 L801.1 110.7 L801.1 109.9 L801.2 109.2 L801.4 108.5 L801.6 107.9 L801.8 107.2 L802.1 106.5 L802.5 105.8 L802.9 105 L803.4 104.3 L803.9 103.6 L804.4 103 L805 102.4 L805.6 101.8 L806.2 101.3 L806.8 100.9 L807.5 100.5 L808.2 100.3 L809 100 L809.9 99.9 L810.8 99.7 L811.8 99.6 L812.8 99.6 L813.8 99.6 L814.9 99.7 L815.9 99.7 L816.9 99.8 L817.9 100 L818.8 100.1 L819.6 100.3 L820.5 100.6 L821.5 100.9 L822.4 101.3 L823.3 101.8 L824.2 102.2 L825.1 102.7 L825.9 103.1 L826.7 103.6 L827.4 104 L828 104.3 L828.5 104.5 A1.1 1.1 0 0 0 829.5 102.5Z" fill="#fde0be" opacity="0.85"/>
<path d="M854.8 316 L854.8 315.6 L854.9 315 L854.9 314.4 L855 313.7 L855 313 L855.1 312.1 L855.1 311.3 L855.2 310.3 L855.2 309.3 L855.3 308.3 L855.4 307.2 L855.5 306.1 L855.7 304.9 L855.8 303.6 L856 302.2 L856.2 300.7 L856.4 299.2 L856.6 297.7 L856.8 296.1 L857 294.5 L857.2 292.8 L857.4 291.2 L857.5 289.7 L857.7 288.1 L857.8 286.6 L858 285.1 L858.1 283.7 L858.2 282.2 L858.3 280.7 L858.4 279.2 L858.5 277.8 L858.6 276.3 L858.7 274.7 L858.8 273.2 L858.9 271.7 L859 270.1 L859.1 268.4 L859.1 266.7 L859.2 265 L859.2 263.3 L859.3 261.5 L859.3 259.7 L859.3 257.9 L859.4 256.2 L859.4 254.5 L859.4 252.9 L859.5 251.3 L859.5 249.8 L859.5 248.5 L859.5 247.2 L859.6 246 L859.6 244.9 L859.6 243.8 L859.7 242.7 L859.7 241.7 L859.7 240.6 L859.7 239.4 L859.7 238.2 L859.6 236.8 L859.6 235.4 L859.5 233.8 L859.4 232.2 L859.3 230.5 L859.2 228.7 L859 226.9 L858.9 225.1 L858.7 223.2 L858.6 221.3 L858.5 219.4 L858.3 217.6 L858.2 215.7 L858.1 213.9 L858 212.2 L857.8 210.4 L857.7 208.6 L857.6 206.8 L857.5 205 L857.4 203.2 L857.3 201.5 L857.2 199.7 L857.1 198 L857.1 196.2 L857.1 194.5 L857.1 192.7 L857.1 190.9 L857.1 189.1 L857.2 187.2 L857.3 185.3 L857.3 183.4 L857.5 181.5 L857.6 179.7 L857.7 177.9 L857.9 176.2 L858.1 174.6 L858.3 173.2 L858.5 171.9 L858.8 170.7 L859 169.7 L859.3 168.7 L859.6 167.9 L860 167.1 L860.3 166.3 L860.7 165.6 L861.1 164.9 L861.5 164.1 L861.9 163.4 L862.3 162.6 L862.6 161.8 L862.9 161 L863.2 160.2 L863.5 159.4 L863.7 158.7 L863.9 158.1 L864.1 157.4 L864.3 156.8 L864.5 156.3 L864.7 155.8 L865 155.3 L865.2 154.8 L865.5 154.4 L865.9 153.9 L866.3 153.5 L866.7 153.1 L867.1 152.8 L867.6 152.4 L868.1 152.1 L868.6 151.8 L869.1 151.5 L869.7 151.2 L870.3 150.9 L870.8 150.6 L871.4 150.4 L872 150.2 L872.6 150.1 L873.2 150 L873.9 149.8 L874.7 149.8 L875.4 149.7 L876.2 149.6 L876.9 149.5 L877.7 149.5 L878.4 149.3 L879.1 149.2 L879.8 149 L880.4 148.8 L881 148.7 L881.6 148.5 L882.2 148.3 L882.8 148.1 L883.4 147.8 L884 147.6 L884.5 147.3 L885 146.9 L885.5 146.5 L885.9 146.1 L886.3 145.5 L886.5 144.8 L886.6 144.1 L886.5 143.5 L886.4 142.8 L886.2 142.2 L886 141.6 L885.8 141.1 L885.6 140.6 L885.5 140.1 L885.4 139.7 L885.4 139.5 L885.4 139.3 L885.5 139.1 L885.7 138.9 L885.8 138.6 L886 138.4 L886.2 138.1 L886.5 137.9 L886.7 137.7 L887 137.5 L887.3 137.4 L887.7 137.3 L888 137.1 L888.4 137.1 L888.8 137 L889.2 137 L889.7 137 L890.3 137.1 L890.9 137.2 L891.5 137.3 L892.2 137.4 L892.8 137.6 L893.5 137.7 L894.2 137.9 L894.8 138 L895.5 138.2 L896 138.3 L896.6 138.4 L897.3 138.6 L897.9 138.8 L898.6 139 L899.2 139.3 L899.9 139.4 L900.5 139.6 L901.2 139.8 L901.8 139.8 L902.4 139.8 L903.1 139.7 L903.7 139.5 L904.2 139.3 L904.7 138.9 L905.1 138.5 L905.4 138.1 L905.7 137.6 L906 137.1 L906.2 136.6 L906.4 136.1 L906.5 135.6 L906.6 135 L906.6 134.5 L906.5 133.9 L906.4 133.4 L906.3 132.8 L906.1 132.3 L905.9 131.7 L905.6 131.2 L905.4 130.6 L905.1 130.1 L904.8 129.5 L904.4 129 L904.1 128.5 L903.8 127.9 L903.5 127.3 L903.1 126.8 L902.7 126.2 L902.3 125.6 L901.8 125.1 L901.4 124.5 L901 123.9 L900.6 123.4 L900.1 122.8 L899.7 122.2 L899.3 121.5 L898.9 120.8 L898.5 120.1 L898.1 119.3 L897.7 118.4 L897.2 117.5 L896.8 116.6 L896.4 115.7 L896 114.8 L895.6 113.9 L895.2 113 L894.9 112.2 L894.6 111.4 L894.4 110.6 L894.3 109.9 L894.1 109.1 L894 108.4 L893.9 107.7 L893.8 107.1 L893.8 106.4 L893.8 105.8 L893.8 105.2 L893.9 104.7 L894 104.2 L894.2 103.8 L894.3 103.4 L894.6 103 L894.9 102.6 L895.2 102.3 L895.6 101.9 L896 101.6 L896.5 101.3 L897 101 L897.5 100.8 L898.1 100.6 L898.7 100.3 L899.4 100.2 L900.1 100 L900.8 99.8 L901.5 99.7 L902.3 99.6 L903.1 99.6 L903.9 99.5 L904.8 99.5 L905.7 99.5 L906.7 99.6 L907.6 99.7 L908.6 99.8 L909.7 99.9 L910.8 100.1 L911.9 100.3 L913.1 100.6 L914.4 101 L915.7 101.3 L917.1 101.7 L918.5 102.2 L919.9 102.6 L921.3 103.1 L922.7 103.6 L924 104 L925.3 104.5 L926.5 104.9 L927.7 105.4 L928.9 105.9 L930 106.4 L931.2 106.9 L932.3 107.4 L933.5 107.9 L934.5 108.4 L935.6 108.9 L936.6 109.4 L937.5 109.9 L938.4 110.3 L939.3 110.7 L940 111 L940.8 111.4 L941.4 111.7 L942 111.9 L942.6 112.2 L943.1 112.4 L943.6 112.7 L944 112.9 L944.4 113 L944.8 113.2 L945.1 113.3 L945.3 113.5 A1.6 1.6 0 0 0 946.7 110.5 L946.7 110.5 L946.4 110.4 L946.1 110.3 L945.7 110.1 L945.3 110 L944.9 109.8 L944.4 109.6 L943.9 109.3 L943.3 109.1 L942.7 108.8 L942 108.6 L941.3 108.2 L940.5 107.9 L939.7 107.6 L938.8 107.2 L937.9 106.7 L936.9 106.2 L935.8 105.8 L934.7 105.2 L933.5 104.7 L932.4 104.2 L931.2 103.7 L930 103.2 L928.7 102.7 L927.5 102.3 L926.2 101.8 L924.9 101.4 L923.6 100.9 L922.2 100.4 L920.7 100 L919.3 99.5 L917.9 99.1 L916.5 98.7 L915.1 98.3 L913.7 98 L912.5 97.7 L911.2 97.5 L910.1 97.3 L909 97.2 L907.9 97.1 L906.8 97 L905.8 97 L904.8 97 L903.8 97 L902.9 97.1 L902 97.2 L901.2 97.3 L900.3 97.4 L899.5 97.6 L898.8 97.8 L898 98 L897.3 98.3 L896.6 98.6 L895.9 98.9 L895.2 99.3 L894.6 99.7 L894.1 100.1 L893.5 100.6 L893.1 101.1 L892.6 101.6 L892.3 102.2 L892 102.9 L891.7 103.6 L891.6 104.3 L891.5 105 L891.4 105.7 L891.4 106.5 L891.5 107.2 L891.5 108 L891.7 108.8 L891.8 109.6 L892 110.4 L892.2 111.2 L892.4 112 L892.7 112.9 L893 113.9 L893.4 114.8 L893.8 115.7 L894.2 116.7 L894.7 117.7 L895.1 118.6 L895.6 119.5 L896 120.4 L896.5 121.2 L896.9 122 L897.3 122.7 L897.7 123.4 L898.2 124.1 L898.6 124.7 L899.1 125.4 L899.5 125.9 L900 126.5 L900.4 127.1 L900.8 127.6 L901.1 128.1 L901.5 128.6 L901.8 129.1 L902.1 129.6 L902.4 130.2 L902.7 130.7 L903 131.2 L903.3 131.7 L903.5 132.2 L903.7 132.7 L903.9 133.1 L904 133.5 L904.1 133.9 L904.2 134.2 L904.2 134.5 L904.2 134.8 L904.2 135.1 L904.1 135.5 L904 135.8 L903.8 136.1 L903.7 136.4 L903.5 136.7 L903.3 136.9 L903.1 137.1 L902.9 137.3 L902.7 137.4 L902.5 137.5 L902.3 137.5 L902 137.5 L901.5 137.4 L901.1 137.3 L900.5 137.2 L899.9 137 L899.3 136.8 L898.6 136.6 L898 136.4 L897.3 136.2 L896.6 136 L895.9 135.8 L895.3 135.7 L894.7 135.6 L894 135.4 L893.4 135.3 L892.7 135.1 L892 135 L891.3 134.9 L890.6 134.8 L889.9 134.7 L889.3 134.7 L888.6 134.7 L888 134.7 L887.4 134.9 L886.9 135 L886.4 135.2 L885.9 135.5 L885.4 135.8 L885 136.1 L884.6 136.4 L884.2 136.8 L883.9 137.2 L883.6 137.7 L883.4 138.1 L883.2 138.7 L883.1 139.3 L883.1 140 L883.2 140.6 L883.4 141.2 L883.6 141.8 L883.7 142.4 L883.9 142.9 L884.1 143.4 L884.2 143.8 L884.2 144.2 L884.2 144.4 L884.1 144.5 L884 144.6 L883.9 144.8 L883.6 145 L883.3 145.2 L882.9 145.5 L882.5 145.7 L882 145.9 L881.5 146 L880.9 146.2 L880.3 146.4 L879.8 146.6 L879.2 146.8 L878.6 146.9 L878 147 L877.4 147.1 L876.7 147.2 L875.9 147.3 L875.2 147.3 L874.4 147.4 L873.6 147.5 L872.9 147.6 L872.1 147.8 L871.3 148 L870.6 148.2 L869.9 148.4 L869.3 148.7 L868.6 149 L868 149.3 L867.4 149.6 L866.8 150 L866.2 150.3 L865.6 150.7 L865 151.2 L864.5 151.6 L864 152.1 L863.5 152.6 L863 153.2 L862.6 153.8 L862.2 154.4 L861.8 155 L861.5 155.6 L861.2 156.3 L860.9 156.9 L860.6 157.6 L860.3 158.2 L860 158.9 L859.7 159.6 L859.4 160.2 L859 160.9 L858.6 161.5 L858.2 162.2 L857.7 162.8 L857.2 163.6 L856.7 164.3 L856.2 165.2 L855.7 166.2 L855.3 167.2 L854.8 168.3 L854.4 169.6 L854.1 170.9 L853.8 172.4 L853.5 174 L853.3 175.7 L853.1 177.5 L853 179.3 L852.8 181.2 L852.7 183.1 L852.6 185.1 L852.5 187 L852.4 189 L852.4 190.8 L852.3 192.7 L852.3 194.5 L852.4 196.3 L852.4 198.1 L852.5 199.9 L852.6 201.7 L852.7 203.5 L852.9 205.3 L853 207.1 L853.1 208.9 L853.3 210.7 L853.4 212.5 L853.5 214.3 L853.7 216.1 L853.8 217.9 L854 219.8 L854.1 221.7 L854.3 223.6 L854.4 225.4 L854.6 227.3 L854.8 229.1 L854.9 230.8 L855 232.5 L855.1 234.1 L855.2 235.6 L855.3 237 L855.3 238.3 L855.4 239.5 L855.4 240.6 L855.4 241.7 L855.4 242.7 L855.4 243.7 L855.4 244.8 L855.4 245.9 L855.3 247.1 L855.3 248.4 L855.3 249.8 L855.3 251.3 L855.3 252.8 L855.3 254.5 L855.3 256.1 L855.2 257.9 L855.2 259.6 L855.2 261.4 L855.2 263.2 L855.1 264.9 L855.1 266.6 L855.1 268.3 L855 269.9 L855 271.5 L854.9 273 L854.9 274.6 L854.8 276.1 L854.8 277.6 L854.7 279 L854.7 280.5 L854.6 282 L854.5 283.4 L854.5 284.9 L854.4 286.4 L854.3 287.9 L854.2 289.4 L854.1 290.9 L854 292.5 L853.9 294.1 L853.8 295.8 L853.6 297.3 L853.5 298.9 L853.4 300.5 L853.3 301.9 L853.2 303.3 L853.1 304.7 L853.1 305.9 L853 307.1 L853 308.2 L853 309.3 L853 310.3 L853 311.2 L853 312.1 L853.1 312.9 L853.1 313.7 L853.1 314.4 L853.1 315 L853.2 315.5 L853.2 316 A0.8 0.8 0 0 0 854.8 316Z" fill="#fde0be" opacity="0.85"/>
<path d="M945 115 C945 140 945.5 165 946 185 C945 210 943 240 943 287" fill="none" stroke="#fde0be" stroke-width="4" opacity="0.85"/>
<path d="M896.4 177.5 C896.7 182.6 897.4 197.6 898 208 C898.6 218.4 899.5 227.1 900.3 240 C901.1 252.9 902.5 277.9 902.9 285.5 Q911.5 286.1 920 283.6 L920 283.6 C919.7 277.2 919 257.6 918.4 245 C917.8 232.4 916.9 219.4 916.4 208 C915.9 196.6 915.5 181.7 915.3 176.4 Q905.8 175.4 896.4 177.5Z" fill="#c92d25"/>
<path d="M899.9 180.5 C900.2 185.1 900.9 198.1 901.5 208 C902.1 217.9 903 227.6 903.8 240 C904.6 252.4 906 275.4 906.4 282.5" fill="none" stroke="#b02823" stroke-width="5" opacity="0.5"/>
<path d="M912.5 180.4 C912.7 185 913.1 197.2 913.6 208 C914.1 218.8 915 233.1 915.6 245 C916.2 256.9 916.9 273.8 917.2 279.6" fill="none" stroke="#ea7a66" stroke-width="1.5"/>
<path d="M896.4 177.5 C896.7 182.6 897.4 197.6 898 208 C898.6 218.4 899.5 227.1 900.3 240 C901.1 252.9 902.5 277.9 902.9 285.5 M915.3 176.4 C915.5 181.7 915.9 196.6 916.4 208 C916.9 219.4 917.8 232.4 918.4 245 C919 257.6 919.7 277.2 920 283.6" fill="none" stroke="#2a1414" stroke-width="1.1"/>
<path d="M897.1999999999999 178.5 Q905.8 176.9 914.5 177.4 M903.6999999999999 284.5 Q911.5 284.6 919.2 282.6" fill="none" stroke="#f2b4a2" stroke-width="2"/>
<path d="M984.6 178 C984.7 183.1 985 197.1 985.4 208.6 C985.8 220.1 986.2 234.7 986.7 247.1 C987.2 259.5 988.2 277 988.5 283 Q997.2 283.3 1006 280.6 L1006 280.6 C1005.8 277.2 1005.3 267.7 1004.7 260 C1004.1 252.3 1002.5 242.9 1002.3 234.3 C1002.1 225.7 1003 217.8 1003.4 208.6 C1003.8 199.4 1004.2 183.9 1004.4 179 Q994.5 177.0 984.6 178Z" fill="#c92d25"/>
<path d="M988.1 181 C988.2 185.6 988.5 197.6 988.9 208.6 C989.2 219.6 989.7 235.2 990.2 247.1 C990.7 259 991.7 274.5 992 280" fill="none" stroke="#b02823" stroke-width="5" opacity="0.5"/>
<path d="M1001.6 183 C1001.4 187.3 1001 200 1000.6 208.6 C1000.2 217.2 999.3 225.7 999.5 234.3 C999.7 242.9 1001.3 252.9 1001.9 260 C1002.5 267.1 1003 273.8 1003.2 276.6" fill="none" stroke="#ea7a66" stroke-width="1.5"/>
<path d="M984.6 178 C984.7 183.1 985 197.1 985.4 208.6 C985.8 220.1 986.2 234.7 986.7 247.1 C987.2 259.5 988.2 277 988.5 283 M1004.4 179 C1004.2 183.9 1003.8 199.4 1003.4 208.6 C1003 217.8 1002.1 225.7 1002.3 234.3 C1002.5 242.9 1004.1 252.3 1004.7 260 C1005.3 267.7 1005.8 277.2 1006 280.6" fill="none" stroke="#2a1414" stroke-width="1.1"/>
<path d="M985.4 179 Q994.5 178.5 1003.6 180 M989.3 282 Q997.2 281.8 1005.2 279.6" fill="none" stroke="#f2b4a2" stroke-width="2"/>


<!-- VESSEL -->
<g id="vessel">
  <rect x="43" y="166" width="722" height="9.6" fill="url(#pinkt)"/>
  <rect x="43" y="232.4" width="722" height="9.6" fill="url(#pinkb)"/>
  <rect x="43" y="175.4" width="722" height="57" fill="url(#red)"/>
  <path d="M765 145 L826 203.5 L765 262 Z" fill="url(#headv)"/>
  <path d="M765 145 L826 203.5 L765 262 Z" fill="url(#headh)"/>
  <path d="M765 166 V145 L826 203.5 L765 262 V242" fill="none" stroke="#231f20" stroke-width="2" stroke-linejoin="miter"/>
  
<clipPath id="vclip"><rect x="43" y="175.4" width="722" height="57"/></clipPath>
<linearGradient id="lov" x1="0" y1="175" x2="0" y2="233" gradientUnits="userSpaceOnUse">
<stop offset="0" stop-color="#901030" stop-opacity="0.12"/>
<stop offset="0.45" stop-color="#901030" stop-opacity="0.3"/>
<stop offset="1" stop-color="#901030" stop-opacity="0.22"/>
</linearGradient>
<g clip-path="url(#vclip)">
<path d="M316.9 97.1 C319.7 97.1 320.3 97.8 322.4 99.9 C324.5 102 327.9 105.6 329.4 109.6 C330.9 113.5 331.1 114.5 331.6 123.6 C332.1 132.7 332.3 154.9 332.2 164 C332.1 173.1 332 172 331 178 C330 184 327.2 193 326 200 C324.8 207 324 213.7 324 220 C324 226.3 326.9 234.2 326 238 C325.1 241.8 321.4 241.2 318.5 242.5 C315.6 243.8 312.3 244.6 308.9 245.7 C305.5 246.8 301.2 247.7 298.2 248.9 C295.2 250.2 293 251.6 290.7 253.2 C288.4 254.8 286.4 257.5 284.3 258.6 C282.2 259.7 280.1 258.2 277.8 259.6 C275.5 261 272.3 264.4 270.3 267.1 C268.3 269.8 267.4 273.6 266 275.7 C264.6 277.8 261.8 280 261.8 280 C261.8 280 258.6 274.2 257.5 270.3 C256.4 266.4 256 263.1 255.4 256.4 C254.8 249.7 254.3 241.1 254 230 C253.7 218.9 252.3 201 253.5 190 C254.7 179 258.8 170.9 261 164 C263.2 157.1 263.9 154.4 266.7 148.6 C269.5 142.8 273.7 135.1 277.9 129.1 C282.1 123.1 287.2 117.3 291.8 112.4 C296.4 107.5 301.5 102.5 305.7 99.9 C309.9 97.4 314.1 97.1 316.9 97.1Z" fill="url(#lov)"/>
<path d="M369.8 95.7 C372.4 95.5 376.3 95.7 380.9 98.5 C385.5 101.3 392 107.3 397.6 112.4 C403.2 117.5 409.2 123.1 414.3 129.1 C419.4 135.1 424.4 142.8 428.3 148.6 C432.2 154.4 435.4 159.3 438 164 C440.6 168.7 442.2 171 444 177 C445.8 183 448.1 191.2 449 200 C449.9 208.8 449.5 220.6 449.5 230 C449.5 239.4 449.2 249.7 448.9 256.4 C448.6 263.1 448.7 267.4 447.8 270.3 C446.9 273.2 443.5 274.1 443.5 274.1 C443.5 274.1 440 272.5 437.1 271.4 C434.2 270.3 430.1 268.9 426.4 267.7 C422.6 266.5 418.2 265.6 414.6 264.4 C411 263.1 408 261 405 260.2 C402 259.4 399.1 260.2 396.4 259.6 C393.7 259 391 258 388.9 256.4 C386.8 254.8 384.7 252.2 383.6 250 C382.5 247.8 381.4 245.5 382.5 243 C383.6 240.5 389.1 237.8 390 235 C390.9 232.2 389.9 230.5 388.2 226 C386.5 221.5 382.8 214 379.6 208 C376.4 202 372 196 368.9 190 C365.8 184 362.2 182.2 361 172 C359.8 161.8 361.1 139 361.4 129.1 C361.7 119.2 362.1 117.3 362.8 112.4 C363.5 107.5 364.4 102.7 365.6 99.9 C366.8 97.1 367.2 95.9 369.8 95.7Z" fill="url(#lov)"/>
<path d="M553.7 212 C559.8 207.6 579.4 214.9 591.4 215.5 C603.4 216.1 616 216.3 625.7 215.5 C635.4 214.7 642.8 207.8 649.7 210.5 C656.6 213.2 662.5 226.5 667 232 C671.5 237.5 674.8 239.6 677 243.4 C679.2 247.2 700.8 253.1 680 255 C659.2 256.9 572.9 257.2 552 255 C531.1 252.8 554.4 249.2 554.7 242 C555 234.8 547.6 216.4 553.7 212Z" fill="#9a0010" opacity="0.35"/>
<path d="M553.6 211 C550.5 209.3 556.4 203.2 558 200 C559.6 196.8 561.5 194.3 563 192 C564.5 189.7 565.5 188.3 567 186.3 C568.5 184.3 570.5 181.9 572 180 C573.5 178.1 574.8 176.8 576 175 C577.2 173.2 578.3 170.9 579.3 169.1 C580.3 167.3 581 165.5 582 164 C583 162.5 584 161.3 585 159.9 C586 158.5 586.9 156.9 588 155.7 C589.1 154.4 590.3 153.2 591.7 152.4 C593.1 151.7 594.6 151.5 596.2 151.2 C597.8 150.9 599.8 150.5 601.5 150.5 C603.2 150.5 605.1 150.6 606.7 151.2 C608.3 151.8 610 153.2 611.2 154.2 C612.5 155.2 613.2 156.5 614.2 157.2 C615.2 157.9 616.1 157.7 617.2 158.4 C618.3 159.2 619.9 160.6 621 161.7 C622.1 162.8 622.8 163.7 624 165.1 C625.2 166.5 626.7 168.3 628 170 C629.3 171.7 630.7 173.5 632 175 C633.3 176.5 634.3 177.6 635.6 178.9 C636.9 180.2 638.4 181.3 640 183 C641.6 184.7 643.6 186.9 645.3 188.9 C647 190.9 648.4 192.6 650 195 C651.6 197.4 653.9 201.2 655 203.4 C656.1 205.6 659.2 207.5 656.4 208.3 C653.5 209.1 647.1 208.3 637.9 208 C628.7 207.7 611.5 206.2 601.3 206.5 C591.1 206.8 584.7 209.2 576.7 210 C568.8 210.8 556.7 212.7 553.6 211Z" fill="#f88a20" opacity="0.27"/>
</g>
  <path d="M765 166 H43 V242 H765" fill="none" stroke="#231f20" stroke-width="2"/>
</g>

<!-- ARROWS -->
<g fill="none" stroke="#000" stroke-width="3">
  <path d="M26 112 C10 150 12 204 66 204.5"/>
  <path d="M27 337 C-5 290 0 205 66 204.5"/>
  <path d="M226 63 V150 A52 54.5 0 0 0 278 204.5"/>
  <path d="M207 204.5 H278"/>
  <path d="M417 204.5 H492"/>
  <path d="M654 204.5 H728"/>
  <path d="M867 242.5 H887"/>
  <path d="M951.5 242.5 H970"/>
</g>
<g fill="#000">
  <path d="M85 204.5 L65 199 L65 210 Z"/>
  <path d="M296.5 204.5 L276.5 199 L276.5 210 Z"/>
  <path d="M509 204.5 L490 199 L490 210 Z"/>
  <path d="M747 204.5 L727 199 L727 210 Z"/>
  <path d="M900 242.8 L885 239 L885 246.6 Z"/>
  <path d="M983.5 242.8 L968.5 239 L968.5 246.6 Z"/>
</g>

<!-- TEXT -->
<text x="170.5" y="36.4">Angiotensin-converting</text>
<text x="170.5" y="54.6">enzyme (ACE)</text>
<text x="55" y="122.7">Kidney releases</text>
<text x="55" y="141.4">renin into blood</text>
<text x="34.5" y="281.9">Liver releases</text>
<text x="34.5" y="300.4">angiotensinogen</text>
<text x="34.5" y="319">into blood</text>
<text x="351" y="284.8" text-anchor="middle">In pulmonary</text>
<text x="351" y="303" text-anchor="middle">blood</text>
<text x="517.3" y="35.8">Angiotensin II stimulates</text>
<text x="517.3" y="54.3">aldosterone secretion by</text>
<text x="517.3" y="72.8">adrenal cortex</text>
<text x="798.7" y="35.8">Aldosterone stimulates</text>
<text x="798.7" y="54.1">Na<tspan font-size="12" dy="-6">+</tspan><tspan dy="6"> and H</tspan><tspan font-size="12" dy="4">2</tspan><tspan dy="-4">O reabsorption</tspan></text>
<text x="798.7" y="72.4">in the nephrons</text>
<text class="vt" x="99.5" y="209.4">Angiotensin I</text>
<text class="vt" x="301" y="209.5">Angiotensin II</text>
<text class="vt" x="550.3" y="209.1">Aldosterone</text>
<text x="868.5" y="263.3" style="font-size:16px">Na<tspan font-size="11" dy="-6">+</tspan></text>
<text x="952.5" y="263.3" style="font-size:16px">H<tspan font-size="11" dy="4">2</tspan><tspan dy="-4">O</tspan></text>
</svg>
</body></html>
